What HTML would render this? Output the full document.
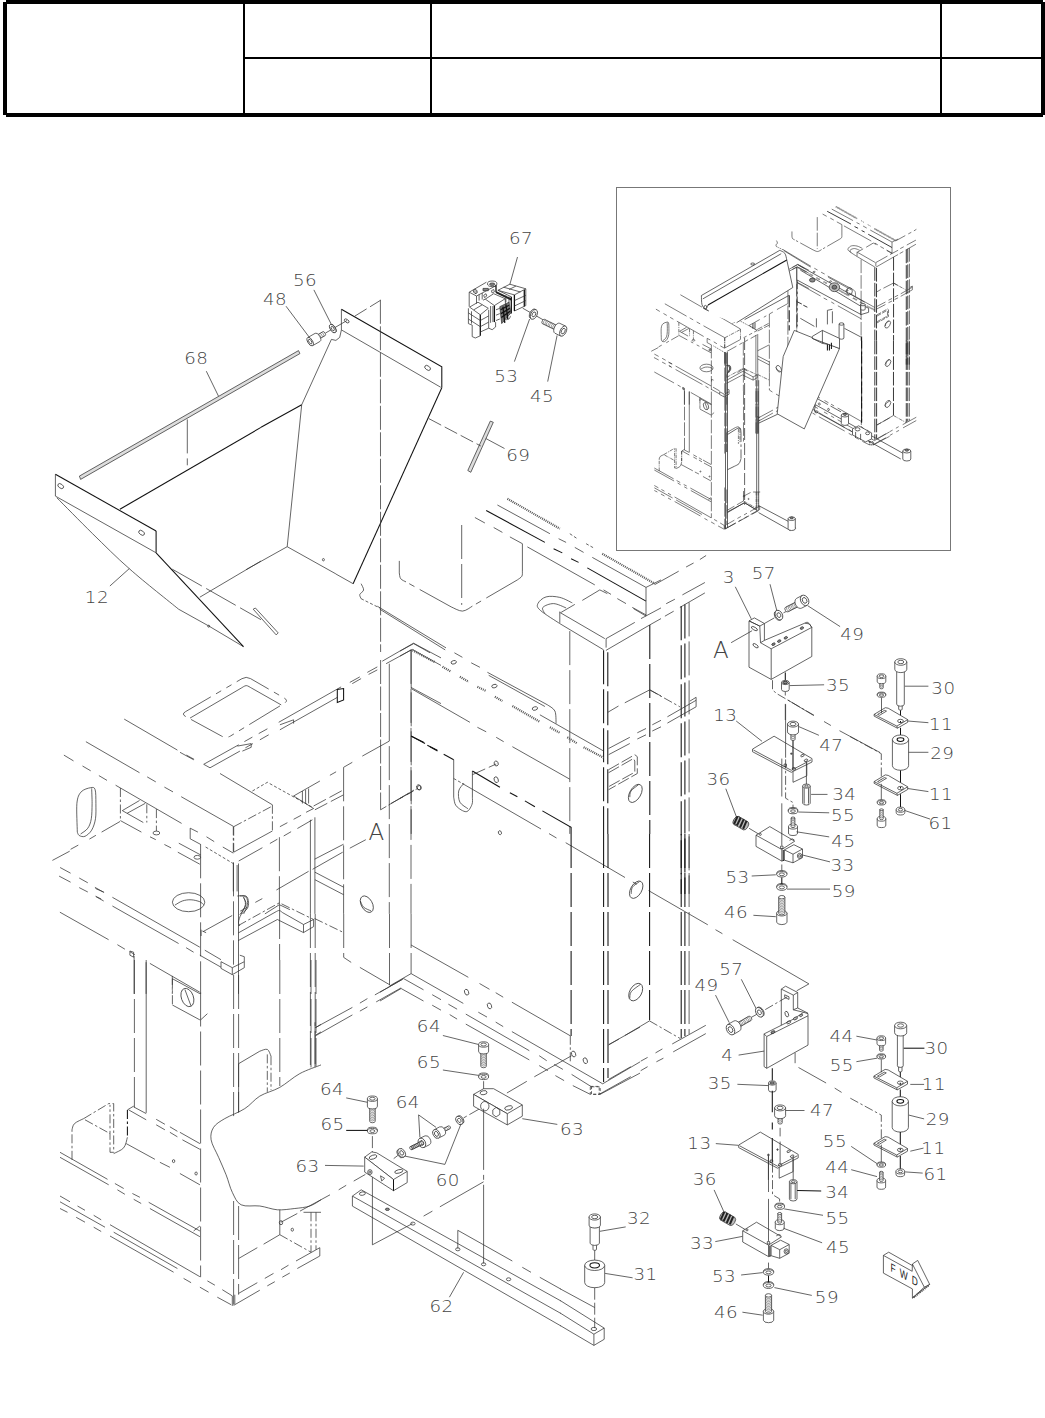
<!DOCTYPE html>
<html lang="en"><head><meta charset="utf-8"><title>Parts diagram</title><style>
html,body{margin:0;padding:0;background:#fff}
body{width:1045px;height:1418px;overflow:hidden;font-family:"DejaVu Sans Light","DejaVu Sans","Liberation Sans",sans-serif}
svg{display:block}
path,ellipse,line,rect,circle{fill:none;stroke:#333;stroke-width:.75}
.s{}
.k{stroke-width:1.05;stroke:#111}
.p{stroke-dasharray:60 10 9 10 9 10}
.c{stroke-dasharray:34 5}
.d{stroke-dasharray:7 3}
.d2{stroke-dasharray:14 4}
.p2{stroke-dasharray:36 6 6 6 6 6}
.tx{stroke-width:2.2;stroke:#555;stroke-dasharray:1 1}
.d3{stroke-dasharray:12 3}
.th{stroke-width:.5}
.cl{stroke-dasharray:24 2.5}
.d1{stroke-dasharray:3 2}
.c2{stroke-dasharray:9 2.5 2.5 2.5}
.w{fill:#fff}
.nost{stroke:none}
.g{fill:#ddd}
.g5{fill:#777}
.g6{fill:#888}
.g9{fill:#bbb}
.k2{stroke-width:1.3;stroke:#111}
.k3{stroke-width:2;stroke:#222}
.hd{fill:#000;stroke:none}
.h2{stroke-width:2;stroke:#000}
text{font-family:"DejaVu Sans Light","DejaVu Sans","Liberation Sans",sans-serif;font-weight:200;font-size:16px;fill:#444;stroke:none;text-anchor:middle;letter-spacing:.4px}
.ta{font-size:23px}
.ins path,.ins ellipse{stroke-width:1.6;stroke:#333}
.ins .k{stroke-width:2.4}
.ins .tx{stroke-width:4}
.fwd{font-family:"Liberation Sans",sans-serif;font-size:12px;letter-spacing:6px;text-anchor:start;fill:#222;font-weight:400}
</style></head><body>
<svg width="1045" height="1418" viewBox="0 0 1045 1418">
<path class="hd" d="M6 0H1043V4H6ZM6 113H1043V117H6ZM3 2H7V115H3ZM1041 2H1045V115H1041ZM243 4H245V113H243ZM430 4H432V113H430ZM940 4H942V113H940ZM245 57H1041V59H245Z"/>
<rect x="616.5" y="187.5" width="334" height="363" style="stroke:#777;stroke-width:1"/>
<text class="t" transform="translate(196.3 364.2) scale(1.14 1)">68</text>
<path class="s" d="M206.3 371.2 L218.5 396.2"/>
<path class="s g" d="M79.4 476.1 L298.5 350.6 L299.9 353.6 L80.6 479.4Z"/>
<path class="c" d="M187.3 419.4 L187.3 465.3"/>
<path class="k" d="M119.9 509.3 L261 427.4"/>
<path class="k" d="M55.4 474.3 L156.1 531"/>
<path class="k" d="M156.1 531 L156.1 552.8"/>
<path class="s" d="M55.4 474.3 L55.4 496.1 L156.1 552.8"/>
<ellipse class="s" cx="60.7" cy="486.1" rx="3.2" ry="2" transform="rotate(35 60.7 486.1)"/>
<ellipse class="s" cx="141.6" cy="532.8" rx="3.2" ry="2" transform="rotate(35 141.6 532.8)"/>
<path class="s" d="M56.9 497.8 C62.9 503.8 80.3 521.6 92.4 533.5 C104.6 545.4 115.5 556.6 129.9 569.2 C144.2 581.9 170.5 602.5 178.6 609.2"/>
<path class="s" d="M178.6 609.2 L208.6 625.9 L243.5 646.7"/>
<path class="k" d="M156.1 552.8 L243.5 646.7"/>
<path class="s" d="M199.8 597.2 L261 561"/>
<path class="c" d="M172.3 569.2 L261 619.7"/>
<text class="t" transform="translate(96.9 603.2) scale(1.14 1)">12</text>
<path class="s" d="M109.9 586 L129.4 568.5"/>
<text class="t" transform="translate(305 285.9) scale(1.14 1)">56</text>
<text class="t" transform="translate(275 304.7) scale(1.14 1)">48</text>
<path class="s" d="M313.9 289.9 L332.2 326.1"/>
<path class="s" d="M286 306.2 L309 336.9"/>
<path class="k" d="M341.4 309.2 L441.8 366.9 L441.8 387.8"/>
<path class="s" d="M341.4 309.2 L341.4 329.9 L440.8 387.3"/>
<ellipse class="s" cx="346.7" cy="320.9" rx="2.7" ry="1.5" transform="rotate(35 346.7 320.9)"/>
<ellipse class="s" cx="427.6" cy="367.9" rx="3.2" ry="2" transform="rotate(35 427.6 367.9)"/>
<path class="s" d="M341.4 329.9 L339.7 337.4 L335.9 340.4 L331.4 339.4 L301.7 404.8"/>
<path class="k" d="M301.7 404.8 L261 427.3"/>
<path class="s" d="M301.7 404.8 L287.2 546.7"/>
<path class="s" d="M287.2 546.7 L246 569.7"/>
<path class="s" d="M287.2 546.7 L335.9 573.9"/>
<path class="k" d="M441.8 387.8 L353.1 583.7"/>
<ellipse class="s" cx="323.4" cy="559.7" rx="1" ry="1.2"/>
<path class="d2" d="M354.7 316.2 L380.4 300.4"/>
<path class="s" d="M325.4 333.1 L347.2 320.4"/>
<path class="s g" d="M490.3 421.1 L493.3 422.3 L470.8 472.3 L467.8 470.5Z"/>
<path class="d2" d="M428.8 418.6 L480.8 446"/>
<path class="s" d="M485.8 438.5 L504.5 448.5"/>
<path class="s w" d="M316.4 335.4 L322.9 331.7 A1.1 2.2 -30 0 1 325.2 335.6 L318.7 339.3 Z"/>
<path d="M318.1 334.5 A1.1 2.2 -30 0 1 320.3 338.4M319.7 333.6 A1.1 2.2 -30 0 1 321.9 337.5M321.3 332.6 A1.1 2.2 -30 0 1 323.5 336.5" style="stroke-width:.5"/>
<path class="s w" d="M307.8 337.5 L315.2 333.3 A2.4 4.7 -30 0 1 319.9 341.5 L312.6 345.7 Z"/>
<ellipse class="s w" cx="310.2" cy="341.6" rx="2.4" ry="4.7" transform="rotate(-30 310.2 341.6)"/>
<ellipse class="s" cx="310.2" cy="341.6" rx="1.3" ry="2.6" transform="rotate(-30 310.2 341.6)"/>
<ellipse class="s w" cx="333" cy="328.5" rx="2.4" ry="4.7" transform="rotate(-30 333 328.5)"/>
<ellipse class="s w" cx="332.7" cy="328.6" rx="2.4" ry="4.7" transform="rotate(-30 332.7 328.6)"/>
<ellipse class="s" cx="332.7" cy="328.6" rx="1.2" ry="2.4" transform="rotate(-30 332.7 328.6)"/>
<text class="t" transform="translate(521 243.8) scale(1.14 1)">67</text>
<path class="s" d="M517.5 257 L509.8 284.6"/>
<path class="s" d="M529.6 319 L514.4 361.6"/>
<path class="s" d="M557.1 335.4 L547.7 381.6"/>
<text class="t" transform="translate(506.3 382.1) scale(1.14 1)">53</text>
<text class="t" transform="translate(542.1 401.7) scale(1.14 1)">45</text>
<path class="s" d="M522.7 308.2 L543.3 319.9"/>
<ellipse class="s w" cx="532.9" cy="313.9" rx="3.1" ry="5.2" transform="rotate(206 532.9 313.9)"/>
<ellipse class="s w" cx="533.9" cy="314.4" rx="3.1" ry="5.2" transform="rotate(206 533.9 314.4)"/>
<ellipse class="s" cx="533.9" cy="314.4" rx="1.6" ry="2.6" transform="rotate(206 533.9 314.4)"/>
<path class="s w" d="M556.2 330.4 L542.3 323.6 A1.3 2.4 206 0 1 544.4 319.3 L558.3 326.1 Z"/>
<path d="M554.7 329.6 A1.3 2.4 206 0 1 556.8 325.3M553.1 328.9 A1.3 2.4 206 0 1 555.2 324.6M551.6 328.1 A1.3 2.4 206 0 1 553.7 323.8M550 327.4 A1.3 2.4 206 0 1 552.1 323M548.5 326.6 A1.3 2.4 206 0 1 550.6 322.3M546.9 325.9 A1.3 2.4 206 0 1 549 321.5M545.4 325.1 A1.3 2.4 206 0 1 547.5 320.8M543.8 324.4 A1.3 2.4 206 0 1 545.9 320" style="stroke-width:.5"/>
<path class="s w" d="M560.7 336.1 L554.9 333.2 A3 5.5 206 0 1 559.7 323.3 L565.6 326.1 Z"/>
<ellipse class="s w" cx="563.2" cy="331.1" rx="3" ry="5.5" transform="rotate(206 563.2 331.1)"/>
<ellipse class="s" cx="563.2" cy="331.1" rx="1.7" ry="3" transform="rotate(206 563.2 331.1)"/>
<path class="s" d="M469.2 292.2 L486.4 282.2"/>
<ellipse class="s" cx="492.2" cy="283.8" rx="4.7" ry="2.8"/>
<ellipse class="s g6" cx="492.2" cy="284.2" rx="2.7" ry="1.2"/>
<path class="s" d="M469.2 292.2 L469.2 306.7"/>
<path class="s" d="M476.5 296 L476.5 303.7"/>
<path class="s" d="M469.2 292.2 L476.5 296 L496 285.7"/>
<path class="s" d="M479.1 294.5 L479.1 300.6"/>
<path class="s" d="M482.2 293 L482.2 299.5"/>
<path class="k2" d="M496 285.3 L496 292.2"/>
<path class="s g6" d="M483 288.4 L488.3 288.4 L488.3 290.7 L483 290.7Z"/>
<ellipse class="s g9" cx="475.3" cy="291.4" rx="1.7" ry="2.3" transform="rotate(-30 475.3 291.4)"/>
<path class="s" d="M483.7 295.3 L486 293.7 L486.8 296 L484.5 297.6Z"/>
<path class="s" d="M491.4 290.7 L493.7 289.5 L494.4 291.8 L492.2 293Z"/>
<path class="s" d="M485.3 299.1 L493.7 293.7 L505.2 298.7 L494.4 305.6Z"/>
<path class="k2" d="M494.4 305.6 L494.4 322.1"/>
<path class="s" d="M483 300.2 L485.3 299.1"/>
<path class="k3" d="M496 292.2 L511.3 299.5"/>
<path class="s" d="M505.2 298.7 L505.9 312.9"/>
<path class="s" d="M469.6 307.1 L478 302.2 L488.3 308.3 L480.3 314.8Z"/>
<path class="s" d="M473.8 309.8 L482.2 304.8"/>
<path class="s" d="M468.4 308.3 L468.4 323.6 L472.2 325.1 L472.2 336.6 L475.3 338 L480.3 335.8"/>
<path class="k2" d="M480.3 314.8 L480.3 335.8"/>
<path class="s" d="M468.4 312.9 L480.3 320.5 L488.7 315.9"/>
<path class="s" d="M468.4 319 L480.3 326.7 L488.7 322.1"/>
<path class="s" d="M471.5 311.3 L471.5 323.6"/>
<path class="s" d="M488.7 309.8 L488.7 328.2 L480.3 332"/>
<path class="s" d="M488.7 328.2 L492.2 329.7 L495.6 327 L495.6 322.1"/>
<path class="s" d="M490.6 306 L490.6 322.8"/>
<path class="s" d="M492.9 306 L492.9 322.1"/>
<path class="s" d="M497.9 290.3 L509.8 284.2 L525.8 288.8 L514.4 294.9Z"/>
<path class="s" d="M503.6 287.2 L520.5 292"/>
<path class="s" d="M509 289.5 L515.9 286.1"/>
<path class="k2" d="M514.4 294.9 L514.4 311"/>
<path class="s" d="M525.8 288.8 L525.8 305.6"/>
<path class="k2" d="M511.3 296.8 L511.3 313.6"/>
<path class="k2" d="M524.3 289.9 L524.3 306.4"/>
<path class="s" d="M514.4 300.6 L525.8 295.3"/>
<path class="s" d="M514.4 306 L525.8 300.6"/>
<path class="s" d="M514.4 311 L525.8 305.6"/>
<path class="s" d="M497.9 290.3 L511.3 296.8"/>
<path class="s" d="M505.9 295.3 L505.9 302.2"/>
<path class="s" d="M509 296.4 L509 302.9"/>
<path class="s g5" d="M499.8 306.7 L509 302.2 L510.9 312.9 L501.7 323.6Z"/>
<path class="k2" d="M500.6 309.8 L509 305.2"/>
<path class="k2" d="M501 313.6 L509.8 308.3"/>
<path class="k2" d="M501.3 317.5 L510.1 311.3"/>
<path class="k2" d="M502.9 306.7 L504.8 322.8"/>
<path class="k2" d="M505.9 304.4 L507.8 319"/>
<path class="s" d="M505.9 319.8 C506.4 319.6 508.2 319.6 509 319 C509.8 318.4 510.3 316.4 510.5 315.9"/>
<path class="s" d="M496 309.8 L499.8 308.3"/>
<path class="s" d="M496 315.2 L499.8 313.6"/>
<path class="s" d="M496 320.5 L499.8 319"/>
<path class="s" d="M124.2 719.1 L177.4 750.1"/>
<path class="s" d="M186.4 755.1 L194.1 759.3"/>
<path class="s" d="M85.9 741.7 L139.5 772.7"/>
<path class="s" d="M147.2 776.9 L155.8 781.9"/>
<path class="s" d="M164.4 787.1 L173 791.9"/>
<path class="s" d="M181.2 796.7 L233.3 826.3"/>
<path class="s" d="M63.9 755.1 L73.5 760.9"/>
<path class="s" d="M82.5 766 L90.7 770.8"/>
<path class="s" d="M98.9 775.6 L107 780.4"/>
<path class="s" d="M115.6 785.2 L181.6 823.4"/>
<path class="s" d="M190.2 828.2 L197.9 832.1"/>
<path class="s" d="M206.5 836.8 L214.2 841.6"/>
<path class="s" d="M222.8 847 L233.3 853.1"/>
<path class="c2" d="M233.3 826.3 L233.3 853.1"/>
<path class="s" d="M233.3 863.6 L233.3 891.4"/>
<path class="s" d="M237.1 865 L237.1 891.4"/>
<path class="d1" d="M205.6 847 L234.3 864.2"/>
<path class="s" d="M77.3 832.1 C77.3 827.3 76.3 810 76.9 803.3 C77.6 796.7 78.9 794.5 81.1 791.9 C83.4 789.3 88.4 788 90.7 787.7 C93 787.3 94.3 787 95.1 789.6 C96 792.2 95.8 798.5 95.9 803.3 C95.9 808.2 96.2 814.2 95.5 818.7 C94.8 823.1 93.4 827.2 91.7 830.1 C89.9 833.1 87 835.4 85 836.3 C82.9 837.2 80.5 836.2 79.2 835.5 C78 834.8 77.6 832.6 77.3 832.1"/>
<path class="s" d="M91.7 788.4 C91.7 790.9 92.1 798.3 92.1 803.3 C92 808.4 92 814.5 91.3 818.7 C90.6 822.8 89.6 825.7 87.8 828.2 C86.1 830.8 81.8 833 80.6 834"/>
<path class="c2" d="M120.4 788 L120.4 820.6"/>
<path class="s" d="M122.3 810.6 L139.5 800.5"/>
<path class="s" d="M127.1 813.3 L145.3 803.3"/>
<path class="s" d="M122.3 810.6 L143.3 822.5"/>
<path class="s" d="M120.4 820.6 L141.4 832.1"/>
<path class="s" d="M150 836.8 L155.8 839.7"/>
<path class="s" d="M164.4 844.5 L171.1 847.9"/>
<path class="s" d="M177.8 852.2 L199.8 864.2"/>
<path class="s" d="M178.8 843.2 L200.8 855"/>
<path class="s" d="M120 821.5 L101.6 832.1"/>
<path class="s" d="M95.9 835.3 L89.4 839.1"/>
<path class="s" d="M78.3 845.1 L70.6 849.3"/>
<path class="s" d="M69.7 851.2 L52.4 860.4"/>
<path class="c2" d="M146.8 804.3 L146.8 822.5"/>
<path class="c2" d="M156.4 809.1 L156.4 831.1"/>
<ellipse class="s" cx="156.4" cy="833" rx="3.4" ry="1.9"/>
<path class="s" d="M190.2 828.2 L190.2 838.8 L200.8 844.5"/>
<ellipse class="s" cx="197.3" cy="857.3" rx="3.3" ry="1.9"/>
<path class="s" d="M60.1 867.5 L70.6 873.2"/>
<path class="s" d="M79.2 878 L87.8 882.8"/>
<path class="s" d="M95.5 888.5 L104.1 892.3"/>
<path class="s" d="M59.1 876.1 L70.6 882.2"/>
<path class="s" d="M79.2 887.6 L87.8 892"/>
<path class="s" d="M95.5 896.2 L101.2 899"/>
<ellipse class="s" cx="188.6" cy="902.2" rx="16.2" ry="9.5"/>
<path class="s" d="M174.8 905.2 C176.1 904.5 179.6 901.9 182.3 901 C185 900.1 188.2 899.6 191.1 899.8 C194 899.9 197.7 900.9 199.8 901.7 C201.9 902.6 202.9 904.2 203.6 904.7"/>
<path class="s" d="M94.9 887.3 L103.7 892.3"/>
<path class="s" d="M112.4 897.3 L199.8 947.2"/>
<path class="s" d="M204.8 950.2 L221 959.7"/>
<path class="s" d="M96.2 896.8 L103.7 901"/>
<path class="s" d="M112.4 906 L178.6 943.5"/>
<path class="s" d="M186.1 947.7 L193.6 952.2"/>
<path class="s" d="M199.8 955.2 L221 967.2"/>
<path class="s" d="M59.9 912.2 L108.6 939.7"/>
<path class="s" d="M117.4 944.7 L124.9 949.2"/>
<path class="s" d="M129.9 951.7 L134.9 954.7"/>
<path class="s" d="M129.9 951 L133.6 952.2 L133.6 957.2 L129.9 955.2Z"/>
<path class="s" d="M134.1 955.9 L134.1 993.9"/>
<path class="s" d="M146.1 962.2 L146.1 993.9"/>
<path class="s" d="M149.9 963.4 L199.8 992.2"/>
<path class="c2" d="M172.3 975.9 L172.3 993.9"/>
<path class="c" d="M200.6 844.3 L200.6 993.9"/>
<path class="c" d="M233.5 862.3 L233.5 964.7"/>
<path class="s" d="M238.5 863.5 L238.5 993.9"/>
<path class="s" d="M237.3 896 C238.7 896 244.1 895 246 896 C247.9 897 248.3 900.2 248.5 902.2 C248.7 904.3 248.5 906.4 247.3 908.5 C246 910.6 242.5 912.4 241 914.7 C239.6 917 238.7 920.4 238.5 922.2 C238.3 924.1 239.6 925.4 239.8 926"/>
<path class="s" d="M243.5 897.3 C243.9 898.5 246.6 901.8 246 904.7 C245.4 907.7 240.8 913.1 239.8 914.7"/>
<path class="s" d="M221 961.7 L232.3 967.7 L244.3 961.7 L244.3 956.7 L239.8 955.2"/>
<path class="s" d="M232.3 967.7 L232.3 974.7 L221 968.4 L221 961.7"/>
<path class="s" d="M232.3 974.7 L244.3 967.7 L244.3 961.7"/>
<path class="s" d="M201.1 929.7 L201.1 936"/>
<path class="s" d="M202.3 931 L206.1 932.7"/>
<ellipse class="s" cx="208.7" cy="626.2" rx="1" ry="1"/>
<path class="s" d="M253.2 609.2 L255.4 608 L278.2 632.9 L276.2 634.9Z"/>
<path class="s" d="M335.9 574 L353.1 583.7"/>
<path class="s" d="M361.1 583.7 C361.5 584.8 363.8 588.2 363.6 590 C363.4 591.8 360.2 593 359.8 594.5 C359.4 595.9 360.9 598 361.1 598.7"/>
<path class="d1" d="M361.1 598.7 L379.8 608"/>
<path class="s" d="M377.3 606.2 L446 647.9"/>
<path class="s" d="M379.8 609.2 L445.2 649.9"/>
<path class="cl" d="M380.4 299.8 L380.6 652"/>
<path class="cl" d="M380.6 660 L380.6 809.8 L414 790"/>
<path class="d2" d="M391 803.5 L413.5 791"/>
<ellipse class="s" cx="419.3" cy="787.8" rx="2" ry="2.2"/>
<path class="s" d="M382.3 661.2 L413.5 643.2 L441 657.9"/>
<path class="s" d="M386.1 663.7 L412.3 649.4 L441 665.4"/>
<path class="s" d="M389.3 663.7 L389.3 741.1"/>
<path class="c" d="M389.3 746.1 L389.3 913.9"/>
<path class="c" d="M411 649.9 L411 913.9"/>
<path class="s" d="M411 687.4 L441 703.6"/>
<path class="k" d="M411 736.1 L423.5 742.3"/>
<path class="k" d="M427.3 745.3 L437.3 750.3"/>
<path class="p2" d="M185.6 716.5 Q181.2 714.1 185.6 711.6L241.9 678.7 Q246.2 676.1 250.5 678.6L284.3 698.1 Q288.6 700.6 284.4 703.2L230.5 736 Q226.2 738.6 221.8 736.2Z"/>
<path class="s" d="M190 718.1 L241.2 688.1"/>
<path class="s" d="M241.2 688.1 C242 687.7 244.5 685.7 246.2 685.6 C247.9 685.6 250.3 687.5 251.2 687.9"/>
<path class="s" d="M251.2 687.9 L281.2 704.9"/>
<path class="s" d="M203.7 764.3 L238.7 744.8"/>
<path class="s" d="M244.4 741.6 L252.4 737.1"/>
<path class="s" d="M258.7 733.6 L267.4 728.8"/>
<path class="s" d="M278.7 722.3 L341.1 686.9"/>
<path class="s" d="M349.8 682.4 L359.8 676.9"/>
<path class="s" d="M367.3 672.4 L377.3 666.9"/>
<path class="s" d="M210 767.8 L239.9 751.1"/>
<path class="s" d="M245.4 747.8 L252.9 743.6"/>
<path class="s" d="M259.9 739.8 L268.7 734.8"/>
<path class="s" d="M279.9 729.8 L337.3 697.4"/>
<path class="s" d="M352.3 683.6 L361.1 678.6"/>
<path class="s" d="M368.6 674.4 L377.3 669.9"/>
<path class="s" d="M203.7 764.3 L210 767.8"/>
<path class="k" d="M337.3 689.4 L337.3 702.4 L343.6 699.9 L343.6 688.6Z"/>
<path class="s" d="M279.9 724.8 L293.6 719.8 L293.6 723.6"/>
<path class="s" d="M237.4 746.1 L251.2 743.6 L251.2 747.3 L242.4 751.1"/>
<path class="s" d="M180 752.3 L193.7 759.8"/>
<path class="s" d="M220 773.5 L272.4 804.8"/>
<path class="c2" d="M272.4 804.8 L272.4 831"/>
<path class="c2" d="M233.7 826.7 L272.4 806"/>
<path class="c2" d="M233.7 826.7 L233.7 852.2"/>
<path class="s" d="M233.7 852.2 L272.4 831"/>
<path class="s" d="M279.9 826.7 L287.4 822.7"/>
<path class="s" d="M293.6 819.3 L301.1 815.3"/>
<path class="s" d="M306.1 812.3 L313.6 808.5"/>
<path class="d1" d="M252.4 791 L267.4 782.3 L312.4 807.3"/>
<path class="s" d="M293.6 796 L319.9 781"/>
<path class="s" d="M329.9 775.3 L336.1 771.8"/>
<path class="s" d="M343.6 767.3 L352.3 762.3"/>
<path class="s" d="M362.3 756.1 L389.3 741.1"/>
<path class="s" d="M302.4 791 L302.4 803.5"/>
<path class="s" d="M305.6 789.8 L305.6 803.5"/>
<path class="s" d="M308.6 788.5 L308.6 803.5"/>
<path class="s" d="M293.6 796 L313.6 808.5"/>
<path class="c" d="M343.6 767.3 L343.6 913.9"/>
<path class="d2" d="M313.6 806 L343.6 789.8"/>
<path class="d2" d="M314.9 809.8 L343.6 794.8"/>
<path class="s" d="M310.4 819.8 L310.4 913.9"/>
<path class="s" d="M314.9 817.3 L314.9 913.9"/>
<path class="s" d="M238.7 861 L262.4 847.7"/>
<path class="s" d="M269.9 843.5 L277.4 839.2"/>
<path class="s" d="M283.7 836 L291.1 831.7"/>
<path class="s" d="M297.4 828.5 L312.4 819.8"/>
<path class="c" d="M279.4 837.2 L279.4 904.7"/>
<text class="t ta" transform="translate(376.6 839.7) scale(1.0 1)">A</text>
<path class="s" d="M203.1 931.6 L232.2 915.5"/>
<path class="s" d="M240.2 911.1 L247.3 907.3"/>
<path class="s" d="M255.3 902.4 L262.3 898.6"/>
<path class="s" d="M276.4 890 L308.6 871.3"/>
<path class="s" d="M312.6 869.3 L342.7 852.2"/>
<path class="s" d="M349.8 848.2 L365.8 839.7"/>
<path class="s" d="M314.6 859.2 L343.6 844.2"/>
<path class="s" d="M314.9 872.2 L343.6 887.2"/>
<path class="s" d="M314.9 879.7 L343.6 894.7"/>
<ellipse class="s" cx="366.8" cy="904.2" rx="5.5" ry="9" transform="rotate(-30 366.8 904.2)"/>
<path class="s" d="M360.3 900.9 C360.9 902 361.8 905.5 363.6 907.2 C365.4 908.8 369.8 910.3 371.1 910.9"/>
<path class="s" d="M264.9 913.9 L279.4 904.7 L289.9 909.7"/>
<path class="s" d="M239.9 895.9 C241 896.1 244.9 895.7 246.2 897.2 C247.4 898.6 247.9 901.9 247.4 904.7 C247 907.5 244.3 912.4 243.7 913.9"/>
<path class="s" d="M243.7 897.2 C244 898.4 245.9 901.9 245.4 904.7 C245 907.5 241.9 912.4 241.2 913.9"/>
<path class="tx" d="M507.4 498.7 L559.8 528.7"/>
<path class="tx" d="M602.3 553.7 L654.8 583.7"/>
<path class="d1" d="M569.8 533.7 L577.3 538.7"/>
<path class="d1" d="M586.1 543.7 L593.6 547.9"/>
<path class="s" d="M497.4 505 L549.9 533.7"/>
<path class="s" d="M558.6 538.7 L566.1 542.4"/>
<path class="s" d="M574.8 547.4 L583.6 552.4"/>
<path class="s" d="M592.3 557.4 L646 587.4"/>
<path class="k" d="M486.2 510.5 L544.9 542.4"/>
<path class="k" d="M553.6 548.7 L562.3 552.9"/>
<path class="k" d="M571.1 558.7 L578.6 562.4"/>
<path class="k" d="M587.3 567.9 L646 601.1"/>
<path class="s" d="M474.9 517.5 L484.9 523"/>
<path class="s" d="M493.7 527.5 L502.4 532.4"/>
<path class="s" d="M509.9 536.9 L522.4 543.7"/>
<path class="s" d="M527.4 546.9 L594.8 584.9"/>
<path class="s" d="M603.6 589.9 L611 594.4"/>
<path class="s" d="M617.3 598.6 L626 603.6"/>
<path class="s" d="M632.3 607.4 L646 614.9"/>
<path class="c" d="M522.4 543.7 L522.4 571.2"/>
<path class="s" d="M522.4 571.2 C522.3 572 522.7 574.7 521.9 576.2 C521.1 577.6 518.1 579.3 517.4 579.9"/>
<path class="p2" d="M517.4 579.9 L472.4 606.1"/>
<path class="s" d="M472.4 606.1 C470.8 607 466 611 462.4 611.1 C458.9 611.2 453.1 607.6 451.2 606.9"/>
<path class="p2" d="M451.2 606.9 L406 581.9"/>
<path class="s" d="M406 581.9 C405.1 581.4 401.9 580.2 400.7 578.7 C399.6 577.2 399.5 573.9 399.3 572.9"/>
<path class="s" d="M399.3 572.9 L399.3 560.9"/>
<path class="c" d="M461.7 525 L461.7 604.9"/>
<path class="s" d="M561.1 612.4 L574.8 604.4"/>
<path class="s" d="M582.3 600.4 L599.8 589.9"/>
<path class="s" d="M599.8 589.9 L607.3 593.6"/>
<path class="s" d="M633.5 608.6 L646 616.1"/>
<path class="s" d="M559.8 611.6 L559.8 622.9"/>
<path class="s" d="M559.8 612.4 L604.8 638.6"/>
<path class="s" d="M559.8 623.6 L603.6 649.8"/>
<path class="s" d="M606.1 638.6 L634.8 622.4"/>
<path class="s" d="M641 618.6 L661 607.9"/>
<path class="s" d="M606.1 650.3 L649.8 624.9 L661 618.6"/>
<path class="s" d="M646 587.4 L646 616.1"/>
<path class="s" d="M646 587.4 L661 579.9"/>
<path class="c2" d="M606.1 638.6 L606.1 650.3"/>
<path class="s" d="M572.3 602.9 C570.3 602 564.2 598.4 559.8 597.4 C555.5 596.4 549.8 595.8 546.1 596.9 C542.4 597.9 538.8 601.4 537.9 603.6 C536.9 605.9 536.7 607 540.4 610.4 C544 613.7 556.6 621.4 559.8 623.6"/>
<path class="s" d="M566.1 607.9 C564 607.2 557.5 603.7 553.6 603.6 C549.7 603.5 544.3 605.7 542.9 607.4 C541.4 609 544.5 612.6 544.9 613.6"/>
<path class="c" d="M569.8 631.1 L569.8 833.9"/>
<path class="c k" d="M603.6 650.3 L603.6 833.9"/>
<path class="c k" d="M607.8 652.3 L607.8 833.9"/>
<path class="c k" d="M649.8 624.9 L649.8 833.9"/>
<path class="s" d="M413.7 643.6 L400 651.1"/>
<path class="s" d="M411.2 649.8 L400 656.1"/>
<path class="s" d="M454.4 652.8 L462.4 657.3"/>
<path class="s" d="M471.2 662.8 L479.9 667.3"/>
<path class="s" d="M487.4 672.3 L547.4 704.8"/>
<path class="s" d="M547.4 704.8 C548.6 705.8 553.4 707.9 554.9 711 C556.3 714.2 555.9 721.4 556.1 723.5"/>
<path class="s" d="M488.7 675.3 L544.9 706.5"/>
<path class="tx" d="M412.5 650.3 L435 662.3"/>
<path class="tx" d="M512.4 706 L539.9 721.8"/>
<path class="tx" d="M583.6 747.2 L603.6 757.7"/>
<path class="tx" d="M442.5 666.8 L451.2 671.8"/>
<path class="tx" d="M459.9 676.8 L468.7 681.8"/>
<path class="tx" d="M477.4 686.8 L486.2 691"/>
<path class="tx" d="M494.9 696.8 L502.4 701"/>
<path class="tx" d="M549.9 727.3 L559.8 732.8"/>
<path class="tx" d="M567.3 737.3 L577.3 743.5"/>
<path class="s" d="M413.7 643.6 L430 652.8"/>
<path class="s" d="M539.9 714.8 L603.6 751"/>
<ellipse class="s" cx="453.7" cy="662.3" rx="2.7" ry="1.7" transform="rotate(-15 453.7 662.3)"/>
<ellipse class="s" cx="494.4" cy="686.1" rx="2.7" ry="1.7" transform="rotate(-15 494.4 686.1)"/>
<ellipse class="s" cx="534.9" cy="708.5" rx="2.7" ry="1.7" transform="rotate(-15 534.9 708.5)"/>
<path class="s" d="M411.2 649.8 L411.2 688.6"/>
<path class="c" d="M411.2 692.3 L411.2 833.9"/>
<path class="s" d="M411.2 688.6 L469.9 722.3"/>
<path class="s" d="M477.4 727.3 L486.2 731.8"/>
<path class="s" d="M496.2 737.3 L503.7 741.7"/>
<path class="s" d="M512.4 746.7 L569.8 779.2"/>
<path class="k" d="M411.2 736 L425 743.5"/>
<path class="k" d="M430 746.7 L437.5 751"/>
<path class="k" d="M443.7 754.2 L453.7 759.7"/>
<path class="s" d="M453.7 759.7 L453.7 797.2"/>
<path class="s" d="M453.7 797.2 C454.1 798.7 454.1 803.5 456.2 805.9 C458.3 808.4 463.6 811.9 466.2 811.7 C468.8 811.5 470.9 807.1 471.9 804.7 C473 802.3 472.3 798.4 472.4 797.2"/>
<path class="s" d="M472.4 797.2 L472.4 771"/>
<path class="s" d="M463.7 783.5 C462.9 784.7 459.3 787.8 458.7 791 C458.1 794.1 458.4 799.2 459.9 802.2 C461.5 805.1 466.6 807.6 467.9 808.7"/>
<path class="k" d="M472.4 771 L499.9 787.2"/>
<path class="k" d="M509.9 792.7 L517.4 796.7"/>
<path class="k" d="M524.9 800.9 L534.9 806.7"/>
<path class="k" d="M542.4 810.9 L571.1 827.2 L571.1 833.9"/>
<path class="d1" d="M453.7 778.5 L463.7 784.2"/>
<ellipse class="s" cx="496.2" cy="763.5" rx="2" ry="2.5" transform="rotate(-20 496.2 763.5)"/>
<ellipse class="s" cx="496.2" cy="779.7" rx="2" ry="3" transform="rotate(-20 496.2 779.7)"/>
<ellipse class="s" cx="418.7" cy="787.2" rx="2" ry="2.5" transform="rotate(-20 418.7 787.2)"/>
<path class="d2" d="M472.4 774.7 L496.2 764"/>
<path class="d2" d="M400 798.4 L417.5 788.5"/>
<ellipse class="s" cx="499.9" cy="832.7" rx="1.5" ry="2" transform="rotate(-20 499.9 832.7)"/>
<path class="s" d="M608.6 748.5 L629.8 737.3"/>
<path class="s" d="M637.3 732.8 L646 728.5"/>
<path class="s" d="M652.3 724.8 L661 720.3"/>
<path class="s" d="M608.6 754.7 L629.8 743.5"/>
<path class="s" d="M637.3 739 L646 734.8"/>
<path class="s" d="M652.3 731 L661 726.8"/>
<path class="s" d="M607.8 712.3 L618.5 706"/>
<path class="s" d="M624.8 702.8 L649.8 689.8 L661 696"/>
<path class="d3" d="M608.6 769.7 L634.8 754.7 L637.3 756.7 L637.3 773.5 L608.6 789.7"/>
<path class="d3" d="M608.6 772.7 L633.5 758.5 L634.8 761 L634.8 772.2 L608.6 786.7"/>
<ellipse class="s" cx="635.3" cy="793.4" rx="5.5" ry="10" transform="rotate(30 635.3 793.4)"/>
<path class="s" d="M629.8 797.2 C630 796.2 629.6 793 631 791 C632.5 788.9 637.3 785.7 638.5 784.7"/>
<path class="s" d="M654.9 584.5 L678.7 571.2"/>
<path class="s" d="M686.1 567 L693.6 563"/>
<path class="s" d="M699.9 559.5 L706.1 555.5"/>
<path class="s" d="M666.2 603.7 L674.9 599.2"/>
<path class="s" d="M682.4 594.9 L704.9 582.5"/>
<path class="s" d="M664.9 616.2 L673.7 611.2"/>
<path class="s" d="M679.9 607.4 L704.9 592.9"/>
<path class="c k" d="M681.2 606.2 L681.2 893.9"/>
<path class="c k" d="M684.9 604.4 L684.9 893.9"/>
<path class="c" d="M689.1 602.4 L689.1 893.9"/>
<path class="c2" d="M649.7 689.9 L679.9 706.8"/>
<path class="s" d="M689.9 701.1 L696.1 697.3 L696.1 706.8"/>
<path class="s" d="M667.4 716.8 L696.1 700.3"/>
<path class="s" d="M667.4 723.1 L696.1 706.8"/>
<ellipse class="s" cx="636.2" cy="889.7" rx="5.5" ry="9.5" transform="rotate(30 636.2 889.7)"/>
<path class="s" d="M631.2 893.9 C631.4 892.8 631.1 889.2 632.4 887.2 C633.8 885.1 638.3 882.6 639.4 881.7"/>
<text class="t" transform="translate(728.7 583.2) scale(1.14 1)">3</text>
<text class="t" transform="translate(763.7 578.9) scale(1.14 1)">57</text>
<text class="t" transform="translate(852.2 640.4) scale(1.14 1)">49</text>
<text class="t" transform="translate(838.1 690.6) scale(1.14 1)">35</text>
<text class="t ta" transform="translate(721 658)">A</text>
<path class="s" d="M735.3 586.8 L751.3 618.9"/>
<path class="s" d="M770 584.2 L777.4 612.8"/>
<path class="s" d="M808 605.9 L840.1 626.6"/>
<path class="s" d="M731.1 642.7 L752.1 630.7"/>
<path class="s" d="M789.6 685.6 L824.1 684.8"/>
<path class="s" d="M749 620.9 L754.4 617.9 L764.4 623.5 L759.8 626.1Z"/>
<path class="s" d="M749 620.9 L759.8 626.1 L760.5 642.7 L771.2 648.8 L771.2 679.4 L749 667.2Z"/>
<path class="s" d="M764.4 623.5 L764.4 640.4 L760.5 642.7"/>
<path class="s" d="M764.4 640.4 L804.9 623.1 L809.5 624 L811.8 627.4 L771.2 648.8"/>
<path class="s" d="M811.8 627.4 L811.8 656.5 L771.2 679.4"/>
<path class="s" d="M804.9 623.1 C805.4 623 806.8 621.8 808 622.5 C809.1 623.2 811.2 626.6 811.8 627.4"/>
<ellipse class="s" cx="754.4" cy="628.6" rx="3.4" ry="1.4" transform="rotate(30 754.4 628.6)"/>
<ellipse class="s" cx="755.6" cy="645.7" rx="3.1" ry="1.4" transform="rotate(35 755.6 645.7)"/>
<ellipse class="s g6" cx="773.5" cy="644.2" rx="1.8" ry="1.1" transform="rotate(-25 773.5 644.2)"/>
<ellipse class="s g6" cx="779.2" cy="641.1" rx="1.8" ry="1.1" transform="rotate(-25 779.2 641.1)"/>
<ellipse class="s g6" cx="785.8" cy="637.8" rx="1.8" ry="1.1" transform="rotate(-25 785.8 637.8)"/>
<ellipse class="s g6" cx="801.9" cy="628.1" rx="1.8" ry="1.1" transform="rotate(-25 801.9 628.1)"/>
<path class="s" d="M764.4 623.5 L774.3 617.9"/>
<path class="s" d="M783.5 612.8 L786.6 611.3"/>
<ellipse class="s w" cx="778.2" cy="615.5" rx="3.5" ry="5.1" transform="rotate(153 778.2 615.5)"/>
<ellipse class="s w" cx="778.9" cy="615.1" rx="3.5" ry="5.1" transform="rotate(153 778.9 615.1)"/>
<ellipse class="s" cx="778.9" cy="615.1" rx="1.8" ry="2.5" transform="rotate(153 778.9 615.1)"/>
<path class="s w" d="M800.3 605.5 L788.1 611.8 A1.8 2.6 153 0 1 785.7 607.1 L798 600.9 Z"/>
<path d="M798.8 606.3 A1.8 2.6 153 0 1 796.4 601.7M797.3 607.1 A1.8 2.6 153 0 1 794.9 602.4M795.7 607.9 A1.8 2.6 153 0 1 793.4 603.2M794.2 608.6 A1.8 2.6 153 0 1 791.8 604M792.7 609.4 A1.8 2.6 153 0 1 790.3 604.8M791.1 610.2 A1.8 2.6 153 0 1 788.8 605.6M789.6 611 A1.8 2.6 153 0 1 787.2 606.4" style="stroke-width:.5"/>
<path class="s w" d="M807.1 605.3 L801.7 608.1 A3.9 5.5 153 0 1 796.7 598.3 L802.1 595.5 Z"/>
<ellipse class="s w" cx="804.6" cy="600.4" rx="3.9" ry="5.5" transform="rotate(153 804.6 600.4)"/>
<ellipse class="s" cx="804.6" cy="600.4" rx="2.1" ry="3" transform="rotate(153 804.6 600.4)"/>
<path class="k" d="M785.3 672.5 L785.3 680.2"/>
<path class="s w" d="M789.2 682.5 L789.2 689.4 A2.1 3.8 90 0 1 781.5 689.4 L781.5 682.5 Z"/>
<ellipse class="s w" cx="785.3" cy="682.5" rx="2.1" ry="3.8" transform="rotate(90 785.3 682.5)"/>
<ellipse class="s" cx="785.3" cy="682.5" rx="1.3" ry="2.3" transform="rotate(90 785.3 682.5)"/>
<ellipse class="s g6" cx="785.3" cy="682.5" rx="2.1" ry="1.2"/>
<path class="c2" d="M772.5 680.2 L772.5 690.1 L777.4 694 L815.6 716.2"/>
<path class="s" d="M785.3 691.7 L785.3 695.5"/>
<path class="s" d="M785.3 703.9 L785.3 720"/>
<text class="t" transform="translate(725.2 721.2) scale(1.14 1)">13</text>
<path class="s" d="M736.2 721 L762 741.3"/>
<path class="s" d="M752.5 749.1 L774.1 736.2 L812 758.6 L812 762 L791.3 772.3 L752.5 751.7Z"/>
<path class="s" d="M753.4 750 L791.3 770.3 L811.1 759.9"/>
<path class="s" d="M793 771.5 L793 782.3 L806.8 775.8 L806.8 762.9"/>
<path class="s" d="M784.1 764.1 L786.5 764.1 L786.5 766.5 L784.1 766.5Z"/>
<ellipse class="s" cx="793.9" cy="768.9" rx="1.7" ry="1.4"/>
<ellipse class="s" cx="802.5" cy="755.5" rx="1.9" ry="1" transform="rotate(-25 802.5 755.5)"/>
<ellipse class="s" cx="805.9" cy="760.3" rx="1.9" ry="1" transform="rotate(-25 805.9 760.3)"/>
<path class="s" d="M790.1 753.7 L792.5 753.7"/>
<path class="s" d="M791.3 752.5 L791.3 754.9"/>
<path class="s" d="M785.6 704.3 L785.6 757.7"/>
<path class="c2" d="M785.6 759.4 L785.6 798.2 L793 802.5 L793 808.5"/>
<path class="k" d="M793 738.8 L793 768.9"/>
<path class="s w" d="M795.1 731.9 L795.1 739.3 A1.1 2.1 90 0 1 790.9 739.3 L790.9 731.9 Z"/>
<ellipse class="s w" cx="793" cy="731.9" rx="1.1" ry="2.1" transform="rotate(90 793 731.9)"/>
<path class="th" d="M790.9 733.7 C791.3 733.9 792.3 734.9 793 734.9 C793.7 734.9 794.7 733.9 795.1 733.7"/>
<path class="th" d="M790.9 735.6 C791.3 735.8 792.3 736.7 793 736.7 C793.7 736.7 794.7 735.8 795.1 735.6"/>
<path class="th" d="M790.9 737.4 C791.3 737.6 792.3 738.6 793 738.6 C793.7 738.6 794.7 737.6 795.1 737.4"/>
<path class="s w" d="M798.5 724.1 L798.5 731.9 A3 5.5 90 0 1 787.5 731.9 L787.5 724.1 Z"/>
<ellipse class="s w" cx="793" cy="724.1" rx="3" ry="5.5" transform="rotate(90 793 724.1)"/>
<ellipse class="s" cx="793" cy="724.1" rx="1.7" ry="3" transform="rotate(90 793 724.1)"/>
<text class="t" transform="translate(831.3 750.8) scale(1.14 1)">47</text>
<path class="s" d="M799 726.7 L818.9 735.3"/>
<path class="s" d="M806.4 761.1 L806.4 785.3"/>
<path class="s w" d="M810.2 786.1 L810.2 803.3 A2.1 3.8 90 0 1 802.7 803.3 L802.7 786.1 Z"/>
<ellipse class="s w" cx="806.4" cy="786.1" rx="2.1" ry="3.8" transform="rotate(90 806.4 786.1)"/>
<ellipse class="s" cx="806.4" cy="786.1" rx="1" ry="1.9" transform="rotate(90 806.4 786.1)"/>
<path class="s" d="M804.2 788.2 L804.2 803.7"/>
<path class="s" d="M808.5 788.2 L808.5 803.7"/>
<ellipse class="s w" cx="793" cy="810.2" rx="2.7" ry="4.8" transform="rotate(-90 793 810.2)"/>
<ellipse class="s w" cx="793" cy="811.1" rx="2.7" ry="4.8" transform="rotate(-90 793 811.1)"/>
<ellipse class="s" cx="793" cy="811.1" rx="1.3" ry="2.4" transform="rotate(-90 793 811.1)"/>
<path class="s w" d="M797.5 826.6 L797.5 833 A2.5 4.5 90 0 1 788.5 833 L788.5 826.6 Z"/>
<ellipse class="s w" cx="793" cy="826.6" rx="2.5" ry="4.5" transform="rotate(90 793 826.6)"/>
<path class="s w" d="M794.9 818 L794.9 826.6 A1 1.9 90 0 1 791.1 826.6 L791.1 818 Z"/>
<ellipse class="s w" cx="793" cy="818" rx="1" ry="1.9" transform="rotate(90 793 818)"/>
<path class="th" d="M791.1 819.7 C791.4 819.9 792.4 820.8 793 820.8 C793.6 820.8 794.6 819.9 794.9 819.7"/>
<path class="th" d="M791.1 821.4 C791.4 821.6 792.4 822.5 793 822.5 C793.6 822.5 794.6 821.6 794.9 821.4"/>
<path class="th" d="M791.1 823.2 C791.4 823.3 792.4 824.2 793 824.2 C793.6 824.2 794.6 823.3 794.9 823.2"/>
<path class="th" d="M791.1 824.9 C791.4 825.1 792.4 825.9 793 825.9 C793.6 825.9 794.6 825.1 794.9 824.9"/>
<path class="s" d="M756 835.2 L769.8 826.6 L794.7 841.2 L781.8 849.5Z"/>
<path class="s" d="M756 835.2 L756 846.4 L781.8 861.1 L781.8 849.5"/>
<path class="s" d="M784.4 849.9 L793.9 844.7 L802.5 849 L793 854.2Z"/>
<path class="s" d="M784.4 849.9 L784.4 860.2 L793 862.8 L793 854.2"/>
<path class="s" d="M793 862.8 L802.5 857.6 L802.5 849"/>
<path class="s" d="M781.8 861.1 L784.4 860.2"/>
<ellipse class="s" cx="799.6" cy="855.9" rx="2.2" ry="2.6"/>
<ellipse class="s" cx="799.6" cy="855.9" rx="1" ry="1.2"/>
<ellipse class="s" cx="760.3" cy="834.4" rx="1" ry="1"/>
<path class="s" d="M780.6 846.1 L783 846.1 L783 848.5 L780.6 848.5Z"/>
<path class="k" d="M783.2 849.9 L783.2 861.1"/>
<path class="s" d="M789.6 840.4 L792.2 838.8 L794.4 840"/>
<path class="s g9" d="M738.8 816.5 L748.1 821.9 A2.8 4.7 30 0 1 743.4 829.9 L734.2 824.6 Z"/>
<ellipse class="s g9" cx="736.5" cy="820.6" rx="2.8" ry="4.7" transform="rotate(30 736.5 820.6)"/>
<path class="k3" d="M737.6 816.3 L734.1 824"/>
<path class="k3" d="M740.7 817.6 L736.9 825.7"/>
<path class="k3" d="M743.8 819.2 L740 827.5"/>
<path class="k3" d="M746.5 820.9 L743.1 828.8"/>
<path class="s" d="M749.1 828.3 L758.6 834"/>
<path class="s" d="M781.8 758.6 L781.8 796.5"/>
<path class="s" d="M781.8 803.3 L781.8 845.6"/>
<path class="c2" d="M781.8 864.5 L781.8 874"/>
<ellipse class="s w" cx="781.8" cy="873.3" rx="2.8" ry="5.2" transform="rotate(-90 781.8 873.3)"/>
<ellipse class="s w" cx="781.8" cy="874.3" rx="2.8" ry="5.2" transform="rotate(-90 781.8 874.3)"/>
<ellipse class="s" cx="781.8" cy="874.3" rx="1.4" ry="2.6" transform="rotate(-90 781.8 874.3)"/>
<ellipse class="s w" cx="781.8" cy="886.4" rx="3" ry="5.2" transform="rotate(-90 781.8 886.4)"/>
<ellipse class="s w" cx="781.8" cy="887.4" rx="3" ry="5.2" transform="rotate(-90 781.8 887.4)"/>
<ellipse class="s" cx="781.8" cy="887.4" rx="1.5" ry="2.6" transform="rotate(-90 781.8 887.4)"/>
<path class="k" d="M781.8 877.4 L781.8 884.3"/>
<path class="s w" d="M787 913.2 L787 922.2 A2.8 5.2 90 0 1 776.7 922.2 L776.7 913.2 Z"/>
<ellipse class="s w" cx="781.8" cy="913.2" rx="2.8" ry="5.2" transform="rotate(90 781.8 913.2)"/>
<path class="s w" d="M784.9 897.2 L784.9 913.2 A1.7 3.1 90 0 1 778.7 913.2 L778.7 897.2 Z"/>
<ellipse class="s w" cx="781.8" cy="897.2" rx="1.7" ry="3.1" transform="rotate(90 781.8 897.2)"/>
<path class="th" d="M778.7 898.8 C779.2 899.1 780.8 900.5 781.8 900.5 C782.9 900.5 784.4 899.1 784.9 898.8"/>
<path class="th" d="M778.7 900.4 C779.2 900.7 780.8 902.1 781.8 902.1 C782.9 902.1 784.4 900.7 784.9 900.4"/>
<path class="th" d="M778.7 902 C779.2 902.3 780.8 903.7 781.8 903.7 C782.9 903.7 784.4 902.3 784.9 902"/>
<path class="th" d="M778.7 903.6 C779.2 903.9 780.8 905.3 781.8 905.3 C782.9 905.3 784.4 903.9 784.9 903.6"/>
<path class="th" d="M778.7 905.2 C779.2 905.5 780.8 906.9 781.8 906.9 C782.9 906.9 784.4 905.5 784.9 905.2"/>
<path class="th" d="M778.7 906.8 C779.2 907.1 780.8 908.5 781.8 908.5 C782.9 908.5 784.4 907.1 784.9 906.8"/>
<path class="th" d="M778.7 908.4 C779.2 908.7 780.8 910.1 781.8 910.1 C782.9 910.1 784.4 908.7 784.9 908.4"/>
<path class="th" d="M778.7 910 C779.2 910.3 780.8 911.7 781.8 911.7 C782.9 911.7 784.4 910.3 784.9 910"/>
<path class="th" d="M778.7 911.6 C779.2 911.9 780.8 913.3 781.8 913.3 C782.9 913.3 784.4 911.9 784.9 911.6"/>
<text class="t" transform="translate(844.3 800.1) scale(1.14 1)">34</text>
<text class="t" transform="translate(843 821.1) scale(1.14 1)">55</text>
<text class="t" transform="translate(843.4 846.9) scale(1.14 1)">45</text>
<text class="t" transform="translate(718.6 784.6) scale(1.14 1)">36</text>
<text class="t" transform="translate(842.5 871) scale(1.14 1)">33</text>
<text class="t" transform="translate(737.5 882.7) scale(1.14 1)">53</text>
<text class="t" transform="translate(843.8 896.9) scale(1.14 1)">59</text>
<text class="t" transform="translate(736 918.4) scale(1.14 1)">46</text>
<path class="s" d="M811.1 794.4 L827.5 794.4"/>
<path class="s" d="M798.2 812 L829.2 812.8"/>
<path class="s" d="M796.5 831.8 L829.2 836.9"/>
<path class="s" d="M725.8 788.7 L736.5 817.1"/>
<path class="s" d="M802.5 855 L830 861.9"/>
<path class="s" d="M751.7 876 L775.8 874.8"/>
<path class="s" d="M787 889.1 L830 889.1"/>
<path class="s" d="M753.4 915.3 L775.8 916.7"/>
<path class="s" d="M787.8 700 L813.7 715.5"/>
<path class="s" d="M824 721.5 L830.9 725.5"/>
<path class="s" d="M839.5 730.7 L880 752.5"/>
<path class="k" d="M900.5 708.9 L900.5 721"/>
<path class="s w" d="M902.2 704.1 L902.2 709.2 A0.9 1.7 90 0 1 898.7 709.2 L898.7 704.1 Z"/>
<ellipse class="s w" cx="900.5" cy="704.1" rx="0.9" ry="1.7" transform="rotate(90 900.5 704.1)"/>
<path class="s w" d="M904.3 669.3 L904.3 704.1 A2.1 3.8 90 0 1 896.7 704.1 L896.7 669.3 Z"/>
<ellipse class="s w" cx="900.5" cy="669.3" rx="2.1" ry="3.8" transform="rotate(90 900.5 669.3)"/>
<path class="s w" d="M906.8 662 L906.8 669.3 A3.3 6 90 0 1 894.8 669.3 L894.8 662 Z"/>
<ellipse class="s w" cx="900.8" cy="662" rx="3.3" ry="6" transform="rotate(90 900.8 662)"/>
<ellipse class="s" cx="900.8" cy="662" rx="1.7" ry="3" transform="rotate(90 900.8 662)"/>
<path class="s w" d="M874.1 714.4 L885.3 707.7 L888.2 708.2 L907.7 719.6 L907.7 722.3 L897.4 728.2 L874.1 716.1Z"/>
<path class="s" d="M874.1 714.4 L896.9 726.1 L907.7 719.6"/>
<path class="s" d="M896.9 726.1 L897.4 728.2"/>
<path class="s" d="M877.6 714.4 L884.4 710.4 L886.5 711.1 L879.6 715.3Z"/>
<ellipse class="s" cx="900.5" cy="721" rx="2.9" ry="1.7"/>
<path class="k" d="M900.5 721 L900.5 722.7"/>
<path class="k" d="M900.5 727.8 L900.5 739"/>
<path class="s w" d="M908.6 739.6 L908.6 765.7 A4.6 8.1 90 0 1 892.4 765.7 L892.4 739.6 Z"/>
<ellipse class="s w" cx="900.5" cy="739.6" rx="4.6" ry="8.1" transform="rotate(90 900.5 739.6)"/>
<ellipse class="k" cx="900.5" cy="739.6" rx="3.4" ry="1.9"/>
<path class="k" d="M900.5 770.4 L900.5 788.1"/>
<path class="s w" d="M874.1 781.6 L885.3 774.9 L888.2 775.4 L907.7 786.8 L907.7 789.5 L897.4 795.4 L874.1 783.3Z"/>
<path class="s" d="M874.1 781.6 L896.9 793.3 L907.7 786.8"/>
<path class="s" d="M896.9 793.3 L897.4 795.4"/>
<path class="s" d="M877.6 781.6 L884.4 777.6 L886.5 778.3 L879.6 782.4Z"/>
<ellipse class="s" cx="900.5" cy="788.1" rx="2.9" ry="1.7"/>
<path class="k" d="M900.5 786.8 L900.5 788.5"/>
<path class="k" d="M900.5 794.2 L900.5 807.9"/>
<path class="s w" d="M904.8 809.7 L904.8 812.4 A2.6 4.3 90 0 1 896.2 812.4 L896.2 809.7 Z"/>
<ellipse class="s w" cx="900.5" cy="809.7" rx="2.6" ry="4.3" transform="rotate(90 900.5 809.7)"/>
<ellipse class="s" cx="900.5" cy="809.7" rx="1.3" ry="2.2" transform="rotate(90 900.5 809.7)"/>
<path class="s w" d="M883.2 681.3 L883.2 687.9 A0.9 1.7 90 0 1 879.8 687.9 L879.8 681.3 Z"/>
<ellipse class="s w" cx="881.5" cy="681.3" rx="0.9" ry="1.7" transform="rotate(90 881.5 681.3)"/>
<path class="th" d="M879.8 683 C880.1 683.1 880.9 683.9 881.5 683.9 C882.1 683.9 883 683.1 883.2 683"/>
<path class="th" d="M879.8 684.6 C880.1 684.8 880.9 685.6 881.5 685.6 C882.1 685.6 883 684.8 883.2 684.6"/>
<path class="th" d="M879.8 686.2 C880.1 686.4 880.9 687.2 881.5 687.2 C882.1 687.2 883 686.4 883.2 686.2"/>
<path class="s w" d="M885.8 676.2 L885.8 681.3 A2.4 4.3 90 0 1 877.2 681.3 L877.2 676.2 Z"/>
<ellipse class="s w" cx="881.5" cy="676.2" rx="2.4" ry="4.3" transform="rotate(90 881.5 676.2)"/>
<ellipse class="s" cx="881.5" cy="676.2" rx="1.3" ry="2.4" transform="rotate(90 881.5 676.2)"/>
<ellipse class="s w" cx="881.5" cy="694.3" rx="2.2" ry="4.3" transform="rotate(-90 881.5 694.3)"/>
<ellipse class="s w" cx="881.5" cy="695.1" rx="2.2" ry="4.3" transform="rotate(-90 881.5 695.1)"/>
<ellipse class="s" cx="881.5" cy="695.1" rx="1.1" ry="2.2" transform="rotate(-90 881.5 695.1)"/>
<path class="s" d="M881.5 697.7 L881.5 713.2"/>
<text class="t" transform="translate(943.4 693.9) scale(1.14 1)">30</text>
<path class="s" d="M904.8 686.2 L928.4 686.2"/>
<text class="t" transform="translate(941.1 730.1) scale(1.14 1)">11</text>
<path class="s" d="M907.7 721 L928.4 722.7"/>
<text class="t" transform="translate(942.2 759) scale(1.14 1)">29</text>
<path class="s" d="M908.6 752.3 L928.4 752.3"/>
<text class="t" transform="translate(941.1 799.8) scale(1.14 1)">11</text>
<path class="s" d="M907.7 788.5 L928.4 791.6"/>
<path class="c2" d="M850 736.5 L881.3 753.7 L881.3 779.5"/>
<path class="s" d="M881.3 783.8 L881.3 801.1"/>
<ellipse class="s w" cx="881.5" cy="801.9" rx="2.2" ry="4.3" transform="rotate(-90 881.5 801.9)"/>
<ellipse class="s w" cx="881.5" cy="802.8" rx="2.2" ry="4.3" transform="rotate(-90 881.5 802.8)"/>
<ellipse class="s" cx="881.5" cy="802.8" rx="1.1" ry="2.2" transform="rotate(-90 881.5 802.8)"/>
<path class="s w" d="M885.8 818.8 L885.8 825.2 A2.4 4.3 90 0 1 877.2 825.2 L877.2 818.8 Z"/>
<ellipse class="s w" cx="881.5" cy="818.8" rx="2.4" ry="4.3" transform="rotate(90 881.5 818.8)"/>
<path class="s w" d="M883.2 809.7 L883.2 818.8 A0.9 1.7 90 0 1 879.8 818.8 L879.8 809.7 Z"/>
<ellipse class="s w" cx="881.5" cy="809.7" rx="0.9" ry="1.7" transform="rotate(90 881.5 809.7)"/>
<path class="th" d="M879.8 811.5 C880.1 811.6 880.9 812.4 881.5 812.4 C882.1 812.4 883 811.6 883.2 811.5"/>
<path class="th" d="M879.8 813.3 C880.1 813.5 880.9 814.3 881.5 814.3 C882.1 814.3 883 813.5 883.2 813.3"/>
<path class="th" d="M879.8 815.1 C880.1 815.3 880.9 816.1 881.5 816.1 C882.1 816.1 883 815.3 883.2 815.1"/>
<path class="th" d="M879.8 817 C880.1 817.1 880.9 817.9 881.5 817.9 C882.1 817.9 883 817.1 883.2 817"/>
<text class="t" transform="translate(940.6 829.1) scale(1.14 1)">61</text>
<path class="s" d="M904.8 810.5 L930.1 819.1"/>
<path class="d2" d="M808.9 983.9 L795.1 991.7"/>
<path class="c2" d="M787.3 996.8 L764.9 1009.8"/>
<text class="t" transform="translate(731.3 974.9) scale(1.14 1)">57</text>
<path class="s" d="M741.3 979.3 L756.3 1008.9"/>
<text class="t" transform="translate(706.6 991.3) scale(1.14 1)">49</text>
<path class="s" d="M715.5 995.1 L729.3 1022.7"/>
<path class="s" d="M750.3 1017.9 L757.2 1014.1"/>
<ellipse class="s w" cx="760.2" cy="1011.9" rx="3.4" ry="5.2" transform="rotate(-30 760.2 1011.9)"/>
<ellipse class="s w" cx="759.4" cy="1012.3" rx="3.4" ry="5.2" transform="rotate(-30 759.4 1012.3)"/>
<ellipse class="s" cx="759.4" cy="1012.3" rx="1.7" ry="2.6" transform="rotate(-30 759.4 1012.3)"/>
<path class="s w" d="M735.5 1023.9 L748.7 1016.3 A1.6 2.4 -30 0 1 751.1 1020.5 L737.9 1028 Z"/>
<path d="M737 1023 A1.6 2.4 -30 0 1 739.4 1027.2M738.5 1022.2 A1.6 2.4 -30 0 1 740.9 1026.4M739.9 1021.3 A1.6 2.4 -30 0 1 742.3 1025.5M741.4 1020.5 A1.6 2.4 -30 0 1 743.8 1024.7M742.8 1019.7 A1.6 2.4 -30 0 1 745.2 1023.8M744.3 1018.8 A1.6 2.4 -30 0 1 746.7 1023M745.7 1018 A1.6 2.4 -30 0 1 748.2 1022.1M747.2 1017.1 A1.6 2.4 -30 0 1 749.6 1021.3" style="stroke-width:.5"/>
<path class="s w" d="M727.6 1024.6 L733.9 1021 A3.7 5.7 -30 0 1 739.6 1030.9 L733.3 1034.5 Z"/>
<ellipse class="s w" cx="730.5" cy="1029.6" rx="3.7" ry="5.7" transform="rotate(-30 730.5 1029.6)"/>
<ellipse class="s" cx="730.5" cy="1029.6" rx="2" ry="3.1" transform="rotate(-30 730.5 1029.6)"/>
<path class="s" d="M781.3 989.1 L785.6 986.2 L797.7 992.5 L793.3 995.1Z"/>
<path class="s" d="M781.3 989.1 L781.3 1025.3"/>
<path class="s" d="M793.3 995.1 L793.3 1009.8 L797.7 1008 L797.7 992.5"/>
<path class="s" d="M797.7 1008 L808 1013.2"/>
<path class="s" d="M764.1 1033.9 L781.3 1025.3 L793.3 1019.2 L803.7 1012.3 L808 1013.7 L808 1015.8 L766.7 1036.5Z"/>
<path class="s" d="M793.3 1009.8 L803.7 1012.3"/>
<path class="s" d="M766.7 1036.5 L766.7 1068.3 L808 1045.1 L808 1015.8"/>
<path class="s" d="M764.1 1033.9 L764.1 1066.6 L766.7 1068.3"/>
<path class="s" d="M784.7 994.8 L789 996.8 L789 999.4 L784.7 997.4Z"/>
<ellipse class="s" cx="786.8" cy="1014.1" rx="1.6" ry="2.9" transform="rotate(-20 786.8 1014.1)"/>
<ellipse class="s g6" cx="773" cy="1032.2" rx="2.2" ry="1.2" transform="rotate(-25 773 1032.2)"/>
<ellipse class="s" cx="788.7" cy="1022.3" rx="2.2" ry="1.2" transform="rotate(-25 788.7 1022.3)"/>
<ellipse class="s g9" cx="795.4" cy="1018.4" rx="2.2" ry="1.2" transform="rotate(-25 795.4 1018.4)"/>
<ellipse class="s g9" cx="801.1" cy="1015.4" rx="1.7" ry="1" transform="rotate(-25 801.1 1015.4)"/>
<text class="t" transform="translate(727.2 1061.1) scale(1.14 1)">4</text>
<path class="s" d="M738.6 1055.1 L764.1 1051.1"/>
<path class="k" d="M772.3 1068.3 L772.3 1080.4"/>
<path class="s w" d="M776.1 1083 L776.1 1089.9 A2.2 3.8 90 0 1 768.5 1089.9 L768.5 1083 Z"/>
<ellipse class="s w" cx="772.3" cy="1083" rx="2.2" ry="3.8" transform="rotate(90 772.3 1083)"/>
<ellipse class="s g6" cx="772.3" cy="1083" rx="2.2" ry="1.2"/>
<text class="t" transform="translate(719.7 1089) scale(1.14 1)">35</text>
<path class="s" d="M737.4 1084.3 L768.4 1085.6"/>
<path class="k" d="M772.3 1090.7 L772.3 1112.2"/>
<path class="k" d="M772.3 1122.6 L772.3 1129.5"/>
<path class="k" d="M772.3 1138.1 L772.3 1162.2"/>
<path class="s w" d="M782.2 1115.7 L782.2 1122.9 A1.1 2.1 90 0 1 778 1122.9 L778 1115.7 Z"/>
<ellipse class="s w" cx="780.1" cy="1115.7" rx="1.1" ry="2.1" transform="rotate(90 780.1 1115.7)"/>
<path class="th" d="M778 1117.5 C778.4 1117.7 779.4 1118.6 780.1 1118.6 C780.8 1118.6 781.8 1117.7 782.2 1117.5"/>
<path class="th" d="M778 1119.3 C778.4 1119.5 779.4 1120.4 780.1 1120.4 C780.8 1120.4 781.8 1119.5 782.2 1119.3"/>
<path class="th" d="M778 1121.1 C778.4 1121.3 779.4 1122.3 780.1 1122.3 C780.8 1122.3 781.8 1121.3 782.2 1121.1"/>
<path class="s w" d="M785.6 1107.9 L785.6 1115.7 A3 5.5 90 0 1 774.6 1115.7 L774.6 1107.9 Z"/>
<ellipse class="s w" cx="780.1" cy="1107.9" rx="3" ry="5.5" transform="rotate(90 780.1 1107.9)"/>
<ellipse class="s" cx="780.1" cy="1107.9" rx="1.7" ry="3" transform="rotate(90 780.1 1107.9)"/>
<path class="s" d="M780.1 1127.8 L780.1 1136.4"/>
<path class="s" d="M780.1 1141.5 L780.1 1163.1"/>
<text class="t" transform="translate(822 1116.2) scale(1.14 1)">47</text>
<path class="s" d="M785.6 1110.5 L804.5 1110.5"/>
<path class="s" d="M738.7 1145 L760.3 1132.1 L798.2 1154.4 L798.2 1157.9 L777.5 1168.2 L738.7 1147.6Z"/>
<path class="s" d="M739.6 1145.8 L777.5 1166.2 L797.3 1155.8"/>
<path class="s" d="M779.2 1167.4 L779.2 1178.2 L793 1171.7 L793 1158.8"/>
<path class="s" d="M770.3 1160 L772.7 1160 L772.7 1162.4 L770.3 1162.4Z"/>
<ellipse class="s" cx="780.1" cy="1164.8" rx="1.7" ry="1.4"/>
<ellipse class="s" cx="788.7" cy="1151.3" rx="1.9" ry="1" transform="rotate(-25 788.7 1151.3)"/>
<ellipse class="s" cx="792.1" cy="1156.2" rx="1.9" ry="1" transform="rotate(-25 792.1 1156.2)"/>
<path class="s" d="M776.3 1149.6 L778.7 1149.6"/>
<path class="s" d="M777.5 1148.4 L777.5 1150.8"/>
<ellipse class="s" cx="768.4" cy="1155" rx="0.9" ry="0.9"/>
<path class="s" d="M768.4 1156.2 L768.4 1179.9"/>
<path class="s" d="M715.8 1143.6 L738.2 1145.3"/>
<path class="s" d="M795.1 1052.8 L795.1 1063.2"/>
<path class="s" d="M798.5 1067.5 L826.1 1083"/>
<path class="s" d="M834.7 1088.1 L841.6 1092.4"/>
<text class="t" transform="translate(841.6 1042.1) scale(1.14 1)">44</text>
<text class="t" transform="translate(841.8 1071.1) scale(1.14 1)">55</text>
<text class="t" transform="translate(834.9 1147.2) scale(1.14 1)">55</text>
<text class="t" transform="translate(837.3 1173) scale(1.14 1)">44</text>
<path class="s" d="M462.4 783.5 L541 829"/>
<path class="s" d="M549 833.6 L556.5 838"/>
<path class="s" d="M565.7 842.7 L625 877.5"/>
<path class="s" d="M632.8 882 L636.7 884.3"/>
<path class="s" d="M648.6 890.6 L707.8 924.8"/>
<path class="s" d="M715.5 929.7 L722.4 933.7"/>
<path class="s" d="M732.7 939.7 L808.9 983.9"/>
<path class="k" d="M900.3 1070.6 L900.3 1082.7"/>
<path class="s w" d="M902 1065.8 L902 1071 A0.9 1.7 90 0 1 898.6 1071 L898.6 1065.8 Z"/>
<ellipse class="s w" cx="900.3" cy="1065.8" rx="0.9" ry="1.7" transform="rotate(90 900.3 1065.8)"/>
<path class="s w" d="M903.2 1032.7 L903.2 1065.8 A1.6 2.9 90 0 1 897.4 1065.8 L897.4 1032.7 Z"/>
<ellipse class="s w" cx="900.3" cy="1032.7" rx="1.6" ry="2.9" transform="rotate(90 900.3 1032.7)"/>
<path class="s w" d="M906.7 1025.5 L906.7 1032.7 A3.3 6 90 0 1 894.6 1032.7 L894.6 1025.5 Z"/>
<ellipse class="s w" cx="900.6" cy="1025.5" rx="3.3" ry="6" transform="rotate(90 900.6 1025.5)"/>
<ellipse class="s" cx="900.6" cy="1025.5" rx="1.7" ry="3" transform="rotate(90 900.6 1025.5)"/>
<path class="s w" d="M873.9 1076.1 L885.1 1069.4 L888.1 1069.9 L907.5 1081.3 L907.5 1084.1 L897.2 1089.9 L873.9 1077.9Z"/>
<path class="s" d="M873.9 1076.1 L896.7 1087.8 L907.5 1081.3"/>
<path class="s" d="M896.7 1087.8 L897.2 1089.9"/>
<path class="s" d="M877.4 1076.1 L884.3 1072.2 L886.3 1072.9 L879.4 1077Z"/>
<ellipse class="s" cx="900.3" cy="1082.7" rx="2.9" ry="1.7"/>
<path class="k" d="M900.3 1082.7 L900.3 1084.4"/>
<path class="k" d="M900.3 1089.6 L900.3 1100.8"/>
<path class="s w" d="M908.4 1101.3 L908.4 1127.5 A4.6 8.1 90 0 1 892.2 1127.5 L892.2 1101.3 Z"/>
<ellipse class="s w" cx="900.3" cy="1101.3" rx="4.6" ry="8.1" transform="rotate(90 900.3 1101.3)"/>
<ellipse class="k" cx="900.3" cy="1101.3" rx="3.4" ry="1.9"/>
<path class="k" d="M900.3 1132.1 L900.3 1149.9"/>
<path class="s w" d="M873.9 1143.3 L885.1 1136.6 L888.1 1137.1 L907.5 1148.5 L907.5 1151.2 L897.2 1157.1 L873.9 1145Z"/>
<path class="s" d="M873.9 1143.3 L896.7 1155 L907.5 1148.5"/>
<path class="s" d="M896.7 1155 L897.2 1157.1"/>
<path class="s" d="M877.4 1143.3 L884.3 1139.3 L886.3 1140 L879.4 1144.2Z"/>
<ellipse class="s" cx="900.3" cy="1149.9" rx="2.9" ry="1.7"/>
<path class="k" d="M900.3 1148.5 L900.3 1150.2"/>
<path class="k" d="M900.3 1155.9 L900.3 1169.7"/>
<path class="s w" d="M904.6 1171.4 L904.6 1174.1 A2.6 4.3 90 0 1 896 1174.1 L896 1171.4 Z"/>
<ellipse class="s w" cx="900.3" cy="1171.4" rx="2.6" ry="4.3" transform="rotate(90 900.3 1171.4)"/>
<ellipse class="s" cx="900.3" cy="1171.4" rx="1.3" ry="2.2" transform="rotate(90 900.3 1171.4)"/>
<text class="t" transform="translate(936.5 1054.2) scale(1.14 1)">30</text>
<path class="k" d="M903.7 1048.2 L924.4 1048.2"/>
<text class="t" transform="translate(933.9 1090.1) scale(1.14 1)">11</text>
<path class="s" d="M910.3 1084.4 L924.1 1084.4"/>
<text class="t" transform="translate(937.8 1125.4) scale(1.14 1)">29</text>
<path class="s" d="M908.9 1115.1 L924.1 1118.9"/>
<text class="t" transform="translate(933.4 1153.5) scale(1.14 1)">11</text>
<path class="s" d="M910.3 1151.2 L923.5 1148.1"/>
<text class="t" transform="translate(935.6 1179.6) scale(1.14 1)">61</text>
<path class="s" d="M905.1 1171.9 L922.7 1173.1"/>
<path class="s w" d="M883.1 1043.4 L883.1 1050.3 A0.9 1.7 90 0 1 879.6 1050.3 L879.6 1043.4 Z"/>
<ellipse class="s w" cx="881.3" cy="1043.4" rx="0.9" ry="1.7" transform="rotate(90 881.3 1043.4)"/>
<path class="th" d="M879.6 1045.1 C879.9 1045.3 880.8 1046.1 881.3 1046.1 C881.9 1046.1 882.8 1045.3 883.1 1045.1"/>
<path class="th" d="M879.6 1046.9 C879.9 1047 880.8 1047.8 881.3 1047.8 C881.9 1047.8 882.8 1047 883.1 1046.9"/>
<path class="th" d="M879.6 1048.6 C879.9 1048.7 880.8 1049.5 881.3 1049.5 C881.9 1049.5 882.8 1048.7 883.1 1048.6"/>
<path class="s w" d="M885.6 1038.2 L885.6 1043.4 A2.4 4.3 90 0 1 877 1043.4 L877 1038.2 Z"/>
<ellipse class="s w" cx="881.3" cy="1038.2" rx="2.4" ry="4.3" transform="rotate(90 881.3 1038.2)"/>
<ellipse class="s" cx="881.3" cy="1038.2" rx="1.3" ry="2.4" transform="rotate(90 881.3 1038.2)"/>
<ellipse class="s w" cx="881.3" cy="1056" rx="2.2" ry="4.3" transform="rotate(-90 881.3 1056)"/>
<ellipse class="s w" cx="881.3" cy="1056.8" rx="2.2" ry="4.3" transform="rotate(-90 881.3 1056.8)"/>
<ellipse class="s" cx="881.3" cy="1056.8" rx="1.1" ry="2.2" transform="rotate(-90 881.3 1056.8)"/>
<path class="s" d="M881.3 1059.4 L881.3 1072.3"/>
<path class="s" d="M856.4 1036.2 L877 1040"/>
<path class="s" d="M856.4 1061.7 L877 1058.2"/>
<path class="c2" d="M850.3 1098.2 L881.3 1115.1 L881.3 1139.5"/>
<path class="s" d="M881.3 1144.7 L881.3 1162.8"/>
<ellipse class="s w" cx="881.3" cy="1164.2" rx="2.2" ry="4.3" transform="rotate(-90 881.3 1164.2)"/>
<ellipse class="s w" cx="881.3" cy="1165" rx="2.2" ry="4.3" transform="rotate(-90 881.3 1165)"/>
<ellipse class="s" cx="881.3" cy="1165" rx="1.1" ry="2.2" transform="rotate(-90 881.3 1165)"/>
<path class="s w" d="M885.6 1180.5 L885.6 1186.9 A2.4 4.3 90 0 1 877 1186.9 L877 1180.5 Z"/>
<ellipse class="s w" cx="881.3" cy="1180.5" rx="2.4" ry="4.3" transform="rotate(90 881.3 1180.5)"/>
<path class="s w" d="M883.1 1172.2 L883.1 1180.5 A0.9 1.7 90 0 1 879.6 1180.5 L879.6 1172.2 Z"/>
<ellipse class="s w" cx="881.3" cy="1172.2" rx="0.9" ry="1.7" transform="rotate(90 881.3 1172.2)"/>
<path class="th" d="M879.6 1173.9 C879.9 1174.1 880.8 1174.8 881.3 1174.8 C881.9 1174.8 882.8 1174.1 883.1 1173.9"/>
<path class="th" d="M879.6 1175.6 C879.9 1175.7 880.8 1176.5 881.3 1176.5 C881.9 1176.5 882.8 1175.7 883.1 1175.6"/>
<path class="th" d="M879.6 1177.2 C879.9 1177.4 880.8 1178.2 881.3 1178.2 C881.9 1178.2 882.8 1177.4 883.1 1177.2"/>
<path class="th" d="M879.6 1178.9 C879.9 1179 880.8 1179.8 881.3 1179.8 C881.9 1179.8 882.8 1179 883.1 1178.9"/>
<path class="s" d="M851.2 1146.4 L877 1163.6"/>
<path class="s" d="M851.2 1169.7 L877 1176.6"/>
<path class="s" d="M793.2 1156.7 L793.2 1180.8"/>
<path class="s w" d="M797 1181.7 L797 1198.9 A2.1 3.8 90 0 1 789.4 1198.9 L789.4 1181.7 Z"/>
<ellipse class="s w" cx="793.2" cy="1181.7" rx="2.1" ry="3.8" transform="rotate(90 793.2 1181.7)"/>
<ellipse class="s" cx="793.2" cy="1181.7" rx="1" ry="1.9" transform="rotate(90 793.2 1181.7)"/>
<path class="s" d="M790.9 1183.7 L790.9 1199.2"/>
<path class="s" d="M795.2 1183.7 L795.2 1199.2"/>
<ellipse class="s w" cx="779.7" cy="1205.8" rx="2.7" ry="4.8" transform="rotate(-90 779.7 1205.8)"/>
<ellipse class="s w" cx="779.7" cy="1206.7" rx="2.7" ry="4.8" transform="rotate(-90 779.7 1206.7)"/>
<ellipse class="s" cx="779.7" cy="1206.7" rx="1.3" ry="2.4" transform="rotate(-90 779.7 1206.7)"/>
<path class="s w" d="M784.2 1222.2 L784.2 1228.5 A2.5 4.5 90 0 1 775.3 1228.5 L775.3 1222.2 Z"/>
<ellipse class="s w" cx="779.7" cy="1222.2" rx="2.5" ry="4.5" transform="rotate(90 779.7 1222.2)"/>
<path class="s w" d="M781.6 1213.5 L781.6 1222.2 A1 1.9 90 0 1 777.8 1222.2 L777.8 1213.5 Z"/>
<ellipse class="s w" cx="779.7" cy="1213.5" rx="1" ry="1.9" transform="rotate(90 779.7 1213.5)"/>
<path class="th" d="M777.8 1215.3 C778.2 1215.4 779.1 1216.3 779.7 1216.3 C780.4 1216.3 781.3 1215.4 781.6 1215.3"/>
<path class="th" d="M777.8 1217 C778.2 1217.2 779.1 1218 779.7 1218 C780.4 1218 781.3 1217.2 781.6 1217"/>
<path class="th" d="M777.8 1218.7 C778.2 1218.9 779.1 1219.8 779.7 1219.8 C780.4 1219.8 781.3 1218.9 781.6 1218.7"/>
<path class="th" d="M777.8 1220.4 C778.2 1220.6 779.1 1221.5 779.7 1221.5 C780.4 1221.5 781.3 1220.6 781.6 1220.4"/>
<path class="s" d="M742.7 1230.8 L756.5 1222.2 L781.5 1236.8 L768.5 1245.1Z"/>
<path class="s" d="M742.7 1230.8 L742.7 1242 L768.5 1256.6 L768.5 1245.1"/>
<path class="s" d="M771.1 1245.4 L780.6 1240.2 L789.2 1244.5 L779.7 1249.7Z"/>
<path class="s" d="M771.1 1245.4 L771.1 1255.7 L779.7 1258.3 L779.7 1249.7"/>
<path class="s" d="M779.7 1258.3 L789.2 1253.2 L789.2 1244.5"/>
<path class="s" d="M768.5 1256.6 L771.1 1255.7"/>
<ellipse class="s" cx="786.3" cy="1251.4" rx="2.2" ry="2.6"/>
<ellipse class="s" cx="786.3" cy="1251.4" rx="1" ry="1.2"/>
<ellipse class="s" cx="747" cy="1229.9" rx="1" ry="1"/>
<path class="s" d="M767.3 1241.6 L769.7 1241.6 L769.7 1244 L767.3 1244Z"/>
<path class="k" d="M769.9 1245.4 L769.9 1256.6"/>
<path class="s" d="M776.3 1235.9 L778.9 1234.4 L781.1 1235.6"/>
<path class="s g9" d="M725.6 1212.1 L734.8 1217.4 A2.8 4.7 30 0 1 730.2 1225.5 L720.9 1220.2 Z"/>
<ellipse class="s g9" cx="723.2" cy="1216.1" rx="2.8" ry="4.7" transform="rotate(30 723.2 1216.1)"/>
<path class="k3" d="M724.3 1211.8 L720.8 1219.6"/>
<path class="k3" d="M727.4 1213.2 L723.6 1221.3"/>
<path class="k3" d="M730.5 1214.7 L726.7 1223"/>
<path class="k3" d="M733.2 1216.5 L729.8 1224.4"/>
<path class="s" d="M735.8 1223.9 L745.3 1229.6"/>
<path class="s" d="M768.5 1154.1 L768.5 1192"/>
<path class="s" d="M768.5 1198.9 L768.5 1241.1"/>
<path class="c2" d="M768.5 1262.6 L768.5 1272.1"/>
<ellipse class="s w" cx="768.5" cy="1271.4" rx="2.8" ry="5.2" transform="rotate(-90 768.5 1271.4)"/>
<ellipse class="s w" cx="768.5" cy="1272.4" rx="2.8" ry="5.2" transform="rotate(-90 768.5 1272.4)"/>
<ellipse class="s" cx="768.5" cy="1272.4" rx="1.4" ry="2.6" transform="rotate(-90 768.5 1272.4)"/>
<ellipse class="s w" cx="768.5" cy="1284.5" rx="3" ry="5.2" transform="rotate(-90 768.5 1284.5)"/>
<ellipse class="s w" cx="768.5" cy="1285.5" rx="3" ry="5.2" transform="rotate(-90 768.5 1285.5)"/>
<ellipse class="s" cx="768.5" cy="1285.5" rx="1.5" ry="2.6" transform="rotate(-90 768.5 1285.5)"/>
<path class="k" d="M768.5 1275.6 L768.5 1282.4"/>
<path class="s w" d="M773.7 1311.4 L773.7 1320.3 A2.8 5.2 90 0 1 763.4 1320.3 L763.4 1311.4 Z"/>
<ellipse class="s w" cx="768.5" cy="1311.4" rx="2.8" ry="5.2" transform="rotate(90 768.5 1311.4)"/>
<path class="s w" d="M771.6 1295.4 L771.6 1311.4 A1.7 3.1 90 0 1 765.4 1311.4 L765.4 1295.4 Z"/>
<ellipse class="s w" cx="768.5" cy="1295.4" rx="1.7" ry="3.1" transform="rotate(90 768.5 1295.4)"/>
<path class="th" d="M765.4 1297 C766 1297.2 767.5 1298.7 768.5 1298.7 C769.6 1298.7 771.1 1297.2 771.6 1297"/>
<path class="th" d="M765.4 1298.6 C766 1298.8 767.5 1300.3 768.5 1300.3 C769.6 1300.3 771.1 1298.8 771.6 1298.6"/>
<path class="th" d="M765.4 1300.2 C766 1300.4 767.5 1301.9 768.5 1301.9 C769.6 1301.9 771.1 1300.4 771.6 1300.2"/>
<path class="th" d="M765.4 1301.8 C766 1302.1 767.5 1303.5 768.5 1303.5 C769.6 1303.5 771.1 1302.1 771.6 1301.8"/>
<path class="th" d="M765.4 1303.4 C766 1303.7 767.5 1305.1 768.5 1305.1 C769.6 1305.1 771.1 1303.7 771.6 1303.4"/>
<path class="th" d="M765.4 1305 C766 1305.3 767.5 1306.7 768.5 1306.7 C769.6 1306.7 771.1 1305.3 771.6 1305"/>
<path class="th" d="M765.4 1306.6 C766 1306.9 767.5 1308.3 768.5 1308.3 C769.6 1308.3 771.1 1306.9 771.6 1306.6"/>
<path class="th" d="M765.4 1308.2 C766 1308.5 767.5 1309.9 768.5 1309.9 C769.6 1309.9 771.1 1308.5 771.6 1308.2"/>
<path class="th" d="M765.4 1309.8 C766 1310.1 767.5 1311.5 768.5 1311.5 C769.6 1311.5 771.1 1310.1 771.6 1309.8"/>
<path class="c2" d="M772.5 1163.6 L772.5 1194.6 L779.6 1198.9 L779.6 1204.1"/>
<text class="t" transform="translate(699.4 1149.4) scale(1.14 1)">13</text>
<text class="t" transform="translate(704.7 1185.3) scale(1.14 1)">36</text>
<path class="s" d="M714.1 1189.9 L723.9 1211.8"/>
<text class="t" transform="translate(837.2 1198) scale(1.14 1)">34</text>
<path class="k" d="M797.1 1190.6 L821.2 1191.1"/>
<text class="t" transform="translate(837.6 1223.5) scale(1.14 1)">55</text>
<path class="s" d="M784.2 1208.9 L823 1215.3"/>
<text class="t" transform="translate(838 1252.5) scale(1.14 1)">45</text>
<path class="s" d="M783.3 1228.2 L822.1 1242.8"/>
<text class="t" transform="translate(702 1249) scale(1.14 1)">33</text>
<path class="s" d="M715.3 1241.6 L742.4 1236.4"/>
<text class="t" transform="translate(724.1 1282.1) scale(1.14 1)">53</text>
<path class="s" d="M741.1 1275 L762.7 1272.6"/>
<text class="t" transform="translate(826.9 1302.7) scale(1.14 1)">59</text>
<path class="s" d="M774.4 1287.6 L811.8 1295.4"/>
<text class="t" transform="translate(726.1 1317.9) scale(1.14 1)">46</text>
<path class="s" d="M742.4 1312.2 L762.7 1315.2"/>
<text class="t" transform="translate(428.9 1031.7) scale(1.14 1)">64</text>
<path class="s" d="M442.9 1035.5 L478.6 1044.5"/>
<path class="s w" d="M486.3 1051.2 L486.3 1066.2 A1.5 2.7 90 0 1 480.8 1066.2 L480.8 1051.2 Z"/>
<ellipse class="s w" cx="483.6" cy="1051.2" rx="1.5" ry="2.7" transform="rotate(90 483.6 1051.2)"/>
<path class="th" d="M480.8 1052.9 C481.3 1053.1 482.7 1054.4 483.6 1054.4 C484.5 1054.4 485.9 1053.1 486.3 1052.9"/>
<path class="th" d="M480.8 1054.6 C481.3 1054.8 482.7 1056.1 483.6 1056.1 C484.5 1056.1 485.9 1054.8 486.3 1054.6"/>
<path class="th" d="M480.8 1056.2 C481.3 1056.5 482.7 1057.7 483.6 1057.7 C484.5 1057.7 485.9 1056.5 486.3 1056.2"/>
<path class="th" d="M480.8 1057.9 C481.3 1058.1 482.7 1059.4 483.6 1059.4 C484.5 1059.4 485.9 1058.1 486.3 1057.9"/>
<path class="th" d="M480.8 1059.5 C481.3 1059.8 482.7 1061.1 483.6 1061.1 C484.5 1061.1 485.9 1059.8 486.3 1059.5"/>
<path class="th" d="M480.8 1061.2 C481.3 1061.5 482.7 1062.7 483.6 1062.7 C484.5 1062.7 485.9 1061.5 486.3 1061.2"/>
<path class="th" d="M480.8 1062.9 C481.3 1063.1 482.7 1064.4 483.6 1064.4 C484.5 1064.4 485.9 1063.1 486.3 1062.9"/>
<path class="th" d="M480.8 1064.5 C481.3 1064.8 482.7 1066.1 483.6 1066.1 C484.5 1066.1 485.9 1064.8 486.3 1064.5"/>
<path class="s w" d="M488.6 1044.5 L488.6 1051.2 A2.7 5 90 0 1 478.6 1051.2 L478.6 1044.5 Z"/>
<ellipse class="s w" cx="483.6" cy="1044.5" rx="2.7" ry="5" transform="rotate(90 483.6 1044.5)"/>
<ellipse class="s" cx="483.6" cy="1044.5" rx="1.5" ry="2.7" transform="rotate(90 483.6 1044.5)"/>
<text class="t" transform="translate(428.9 1067.5) scale(1.14 1)">65</text>
<path class="s" d="M442.9 1070 L478.6 1075.4"/>
<ellipse class="s w" cx="483.6" cy="1075.7" rx="2.7" ry="5" transform="rotate(-90 483.6 1075.7)"/>
<ellipse class="s w" cx="483.6" cy="1076.9" rx="2.7" ry="5" transform="rotate(-90 483.6 1076.9)"/>
<ellipse class="s" cx="483.6" cy="1076.9" rx="1.4" ry="2.5" transform="rotate(-90 483.6 1076.9)"/>
<path class="d3" d="M483.6 1081.2 L483.6 1091.2"/>
<path class="d3" d="M479.8 1108.7 L463.6 1117.9"/>
<path class="s w" d="M473.6 1094.4 L483.6 1088.7 L493.6 1088.7 L522.3 1104.9 L507.3 1113.7Z"/>
<path class="s w" d="M473.6 1094.4 L473.6 1106.2 L507.3 1124.9 L507.3 1113.7Z"/>
<path class="s" d="M507.3 1124.9 L522.3 1116.2 L522.3 1104.9"/>
<ellipse class="s" cx="483.6" cy="1092.7" rx="3.5" ry="2" transform="rotate(-10 483.6 1092.7)"/>
<ellipse class="s" cx="508.6" cy="1107.9" rx="4" ry="2" transform="rotate(-15 508.6 1107.9)"/>
<ellipse class="s" cx="484.8" cy="1106.2" rx="4.2" ry="4.7"/>
<path class="s" d="M492.8 1109.9 L496.1 1107.4 L499.8 1109.9 L499.8 1114.4 L496.1 1116.9 L492.8 1114.4Z"/>
<path class="s" d="M522.3 1118.7 L557.3 1124.4"/>
<ellipse class="s w" cx="460.2" cy="1119.9" rx="3.1" ry="4.5" transform="rotate(-30 460.2 1119.9)"/>
<ellipse class="s w" cx="459.3" cy="1120.4" rx="3.1" ry="4.5" transform="rotate(-30 459.3 1120.4)"/>
<ellipse class="s" cx="459.3" cy="1120.4" rx="1.6" ry="2.2" transform="rotate(-30 459.3 1120.4)"/>
<path class="s w" d="M441 1129.7 L448.5 1125.9 A1.1 1.6 -27 0 1 450 1128.8 L442.4 1132.6 Z"/>
<path d="M442.5 1129 A1.1 1.6 -27 0 1 444 1131.8M444 1128.2 A1.1 1.6 -27 0 1 445.5 1131.1M445.5 1127.4 A1.1 1.6 -27 0 1 447 1130.3M447 1126.6 A1.1 1.6 -27 0 1 448.5 1129.5" style="stroke-width:.5"/>
<path class="s w" d="M434.2 1129.7 L439.6 1126.9 A3.3 4.7 -27 0 1 443.9 1135.4 L438.5 1138.1 Z"/>
<ellipse class="s w" cx="436.4" cy="1133.9" rx="3.3" ry="4.7" transform="rotate(-27 436.4 1133.9)"/>
<ellipse class="s" cx="436.4" cy="1133.9" rx="1.8" ry="2.6" transform="rotate(-27 436.4 1133.9)"/>
<text class="t" transform="translate(407.8 1107.9) scale(1.14 1)">64</text>
<path class="s" d="M436.1 1127.4 L418.6 1114.9 L419.9 1137.4"/>
<path class="s w" d="M419.7 1138.4 L425.1 1135.8 A3.5 5 334 0 1 429.5 1144.7 L424.1 1147.4 Z"/>
<ellipse class="s w" cx="421.9" cy="1142.9" rx="3.5" ry="5" transform="rotate(334 421.9 1142.9)"/>
<ellipse class="s" cx="421.9" cy="1142.9" rx="1.7" ry="2.5" transform="rotate(154 421.9 1142.9)"/>
<path class="s w" d="M410.3 1146.6 L421.1 1141.3 A1.2 1.7 334 0 1 422.6 1144.5 L411.9 1149.7 Z"/>
<ellipse class="s w" cx="411.1" cy="1148.1" rx="1.2" ry="1.7" transform="rotate(334 411.1 1148.1)"/>
<ellipse class="th" cx="420.3" cy="1143.6" rx="1.2" ry="1.7" transform="rotate(154 420.3 1143.6)"/>
<ellipse class="th" cx="418.8" cy="1144.4" rx="1.2" ry="1.7" transform="rotate(154 418.8 1144.4)"/>
<ellipse class="th" cx="417.3" cy="1145.1" rx="1.2" ry="1.7" transform="rotate(154 417.3 1145.1)"/>
<ellipse class="th" cx="415.7" cy="1145.9" rx="1.2" ry="1.7" transform="rotate(154 415.7 1145.9)"/>
<ellipse class="th" cx="414.2" cy="1146.6" rx="1.2" ry="1.7" transform="rotate(154 414.2 1146.6)"/>
<ellipse class="th" cx="412.6" cy="1147.4" rx="1.2" ry="1.7" transform="rotate(154 412.6 1147.4)"/>
<ellipse class="s w" cx="400.8" cy="1153.4" rx="3.3" ry="4.7" transform="rotate(150 400.8 1153.4)"/>
<ellipse class="s w" cx="401.7" cy="1152.9" rx="3.3" ry="4.7" transform="rotate(150 401.7 1152.9)"/>
<ellipse class="s" cx="401.7" cy="1152.9" rx="1.7" ry="2.4" transform="rotate(150 401.7 1152.9)"/>
<text class="t" transform="translate(447.7 1185.8) scale(1.14 1)">60</text>
<path class="s" d="M461.1 1123.7 L444.9 1164.4 L404.9 1156.1"/>
<path class="s" d="M393.7 1158.6 L397.9 1155.4"/>
<text class="t" transform="translate(332.1 1094.7) scale(1.14 1)">64</text>
<path class="s" d="M346.2 1097.9 L367.9 1102.4"/>
<path class="s w" d="M375.2 1106.2 L375.2 1121.2 A1.5 2.7 90 0 1 369.7 1121.2 L369.7 1106.2 Z"/>
<ellipse class="s w" cx="372.4" cy="1106.2" rx="1.5" ry="2.7" transform="rotate(90 372.4 1106.2)"/>
<path class="th" d="M369.7 1107.8 C370.1 1108.1 371.5 1109.3 372.4 1109.3 C373.3 1109.3 374.7 1108.1 375.2 1107.8"/>
<path class="th" d="M369.7 1109.5 C370.1 1109.7 371.5 1111 372.4 1111 C373.3 1111 374.7 1109.7 375.2 1109.5"/>
<path class="th" d="M369.7 1111.2 C370.1 1111.4 371.5 1112.7 372.4 1112.7 C373.3 1112.7 374.7 1111.4 375.2 1111.2"/>
<path class="th" d="M369.7 1112.8 C370.1 1113.1 371.5 1114.3 372.4 1114.3 C373.3 1114.3 374.7 1113.1 375.2 1112.8"/>
<path class="th" d="M369.7 1114.5 C370.1 1114.7 371.5 1116 372.4 1116 C373.3 1116 374.7 1114.7 375.2 1114.5"/>
<path class="th" d="M369.7 1116.2 C370.1 1116.4 371.5 1117.7 372.4 1117.7 C373.3 1117.7 374.7 1116.4 375.2 1116.2"/>
<path class="th" d="M369.7 1117.8 C370.1 1118.1 371.5 1119.3 372.4 1119.3 C373.3 1119.3 374.7 1118.1 375.2 1117.8"/>
<path class="th" d="M369.7 1119.5 C370.1 1119.7 371.5 1121 372.4 1121 C373.3 1121 374.7 1119.7 375.2 1119.5"/>
<path class="s w" d="M377.4 1098.7 L377.4 1106.2 A2.7 5 90 0 1 367.4 1106.2 L367.4 1098.7 Z"/>
<ellipse class="s w" cx="372.4" cy="1098.7" rx="2.7" ry="5" transform="rotate(90 372.4 1098.7)"/>
<ellipse class="s" cx="372.4" cy="1098.7" rx="1.5" ry="2.7" transform="rotate(90 372.4 1098.7)"/>
<text class="t" transform="translate(332.5 1130.4) scale(1.14 1)">65</text>
<path class="k" d="M346.2 1130.4 L367.9 1130.4"/>
<ellipse class="s w" cx="372.4" cy="1129.9" rx="2.7" ry="5" transform="rotate(-90 372.4 1129.9)"/>
<ellipse class="s w" cx="372.4" cy="1131.1" rx="2.7" ry="5" transform="rotate(-90 372.4 1131.1)"/>
<ellipse class="s" cx="372.4" cy="1131.1" rx="1.4" ry="2.5" transform="rotate(-90 372.4 1131.1)"/>
<path class="d3" d="M372.4 1136.1 L372.4 1152.4"/>
<path class="s" d="M372.4 1174.9 L372.4 1244.8 L412.4 1223.6"/>
<path class="s" d="M365.4 1174.4 L353.7 1181.1"/>
<path class="s" d="M346.2 1185.3 L338.7 1189.8"/>
<path class="s" d="M330 1194.8 L300 1211.1"/>
<path class="s w" d="M364.7 1157.1 L371.8 1151.9 L376.7 1152.8 L407.2 1171.4 L393.5 1179.5Z"/>
<path class="s w" d="M364.7 1157.1 L364.7 1172.1 L393.5 1190.7 L393.5 1179.5Z"/>
<path class="s" d="M393.5 1190.7 L407.2 1182.6 L407.2 1171.4"/>
<path class="k" d="M393.5 1179.5 L393.5 1190.7"/>
<ellipse class="s" cx="373" cy="1157.1" rx="4" ry="1.9" transform="rotate(-20 373 1157.1)"/>
<ellipse class="s" cx="398.8" cy="1171.4" rx="4.2" ry="1.7" transform="rotate(-15 398.8 1171.4)"/>
<ellipse class="s" cx="369.9" cy="1172.1" rx="2.2" ry="2.5"/>
<ellipse class="s" cx="369.9" cy="1172.1" rx="1" ry="1.1"/>
<path class="s" d="M380.5 1175.8 L384.6 1178.3 L381.7 1181Z"/>
<text class="t" transform="translate(307.5 1171.6) scale(1.14 1)">63</text>
<path class="s" d="M325 1165.4 L363.7 1166.1"/>
<path class="s" d="M352.4 1196.1 L361.2 1189.8 L561 1301"/>
<path class="s" d="M352.4 1196.1 L561 1313.5"/>
<path class="s" d="M352.4 1196.1 L352.4 1206.1 L561 1326"/>
<ellipse class="s" cx="362.4" cy="1193.6" rx="3" ry="1.7" transform="rotate(-10 362.4 1193.6)"/>
<ellipse class="s g6" cx="387.4" cy="1209.3" rx="2" ry="1.2"/>
<ellipse class="s" cx="412.9" cy="1223.6" rx="2.2" ry="1.5"/>
<ellipse class="s" cx="457.8" cy="1249.3" rx="2.2" ry="1.5"/>
<ellipse class="s" cx="483.6" cy="1264.3" rx="2.2" ry="1.5"/>
<ellipse class="s" cx="508.6" cy="1279.3" rx="2.2" ry="1.5"/>
<text class="t" transform="translate(441.6 1312.2) scale(1.14 1)">62</text>
<path class="s" d="M463.6 1272.3 L449.4 1297.2"/>
<path class="s" d="M483.6 1108.7 L483.6 1169.9"/>
<path class="s" d="M483.6 1174.9 L483.6 1179.8"/>
<path class="s" d="M483.6 1184.8 L483.6 1263.5"/>
<path class="s" d="M483.6 1181.8 L439.9 1206.8"/>
<path class="s" d="M432.4 1211.1 L423.6 1216.1"/>
<path class="s" d="M457.8 1248.5 L457.8 1230.3 L512.3 1261"/>
<path class="s" d="M522.3 1267.3 L531 1272.3"/>
<path class="s" d="M539.8 1277.3 L561 1289.2"/>
<path class="c" d="M134.4 960 L134.4 1107.4"/>
<path class="s" d="M146.2 960 L146.2 1112.9"/>
<path class="c" d="M200.6 992.5 L200.6 1277.2"/>
<path class="c" d="M233.6 975 L233.6 1116.1"/>
<path class="c" d="M233.6 1201 L233.6 1304.7"/>
<path class="c" d="M238.6 975 L238.6 1112.4"/>
<path class="c" d="M238.6 1206 L238.6 1294.7"/>
<path class="c" d="M279.8 960 L279.8 1086.1"/>
<path class="c" d="M311 960 L311 1067.4"/>
<path class="c" d="M316 960 L316 1066.1"/>
<path class="c2" d="M172.4 978.7 L172.4 1005"/>
<path class="s" d="M172.4 978.7 L199.9 993.7"/>
<path class="s" d="M172.4 1005 L199.9 1019.9"/>
<ellipse class="s" cx="187.4" cy="997.5" rx="6" ry="9.5" transform="rotate(-20 187.4 997.5)"/>
<path class="s" d="M184.9 989.5 L191.1 1006.2"/>
<path class="s" d="M207.4 1013.7 L200.6 1019.9"/>
<path class="s" d="M238.6 1112.4 L238.6 1063.7 L259.8 1051.2"/>
<path class="s" d="M259.8 1051.2 C261.1 1050.9 265.4 1048.6 267.3 1049.4 C269.2 1050.2 270.4 1055 271 1056.2"/>
<path class="c2" d="M271 1056.2 L271 1089.9"/>
<path class="c2" d="M267.3 1054.4 L267.3 1091.9"/>
<path class="s" d="M321 1064.9 C317.5 1066.4 306.6 1069.9 299.8 1073.6 C292.9 1077.4 286.4 1083.6 279.8 1087.4 C273.1 1091.1 265.6 1092.6 259.8 1096.1 C254 1099.7 250.7 1104.9 244.8 1108.6 C239 1112.4 230 1115.5 224.8 1118.6 C219.6 1121.7 215.9 1123.8 213.6 1127.3 C211.3 1130.9 210.3 1134.8 211.1 1139.8 C211.9 1144.8 216.1 1151.5 218.6 1157.3 C221.1 1163.1 223.8 1169 226.1 1174.8 C228.4 1180.6 229.8 1187.3 232.3 1192.3 C234.8 1197.3 236.5 1202.5 241.1 1204.8 C245.7 1207.1 253.8 1205.2 259.8 1206 C265.8 1206.8 271.5 1209.3 277.3 1209.8 C283.1 1210.2 289.4 1209.1 294.8 1208.5 C300.2 1207.9 305.4 1207.5 309.8 1206 C314.1 1204.6 319.1 1200.8 321 1199.8"/>
<path class="s" d="M133.7 1106.9 L146.2 1113.6"/>
<path class="s" d="M156.2 1119.3 L164.9 1124.3"/>
<path class="s" d="M169.9 1126.8 L177.4 1131.3"/>
<path class="s" d="M179.9 1132.3 L199.9 1143.6"/>
<path class="s" d="M127.4 1109.9 L133.7 1106.1"/>
<path class="s" d="M128.7 1109.9 L146.2 1119.8"/>
<path class="s" d="M156.2 1124.8 L164.9 1129.8"/>
<path class="s" d="M169.9 1132.3 L177.4 1136.8"/>
<path class="s" d="M182.4 1139.8 L199.9 1149.3"/>
<path class="c2 k" d="M127.4 1109.9 L127.4 1137.3"/>
<path class="s" d="M127.4 1137.3 C126.8 1139.1 126 1145.1 123.7 1147.8 C121.4 1150.5 115.4 1152.6 113.7 1153.6"/>
<path class="s" d="M126.2 1143.6 L154.9 1159.3"/>
<path class="s" d="M159.9 1162.3 L169.9 1167.3"/>
<path class="s" d="M179.9 1173.5 L199.9 1184.8"/>
<ellipse class="s" cx="173.6" cy="1161.1" rx="1.2" ry="1.5"/>
<ellipse class="s" cx="196.1" cy="1173.5" rx="1.2" ry="1.5"/>
<path class="c2" d="M72 1159.8 L72 1129.8"/>
<path class="s" d="M72 1129.8 C72.4 1128.8 72.5 1125.5 74.5 1123.6 C76.4 1121.7 82.2 1119.4 83.7 1118.6"/>
<path class="c2" d="M83.7 1118.6 L108.7 1103.6 L113.7 1103.6 L113.7 1152.3 L110 1152.3 L110 1104.9"/>
<path class="c2" d="M85 1119.8 L110 1133.6"/>
<path class="s" d="M60 1152.3 L107.5 1179.3"/>
<path class="s" d="M114.9 1183.5 L123.7 1188.5"/>
<path class="s" d="M132.4 1193.5 L139.9 1197.3"/>
<path class="s" d="M148.7 1202.3 L199.9 1231"/>
<path class="s" d="M60 1157.3 L108.7 1184.8"/>
<path class="s" d="M117.4 1189.8 L124.9 1194.3"/>
<path class="s" d="M133.7 1199.3 L141.2 1203.5"/>
<path class="s" d="M149.9 1208.5 L199.9 1236.7"/>
<path class="s" d="M193.6 1231 L199.9 1226"/>
<path class="s" d="M60 1196 L70 1201.8"/>
<path class="s" d="M77.5 1206 L85 1210.3"/>
<path class="s" d="M93.7 1215.3 L101.2 1219.8"/>
<path class="s" d="M110 1224.7 L199.9 1276.7"/>
<path class="s" d="M207.4 1280.9 L214.9 1285.2"/>
<path class="s" d="M222.3 1289.7 L232.3 1295.9"/>
<path class="s" d="M60 1201.8 L105 1227.2"/>
<path class="s" d="M113.7 1232.2 L177.4 1268.5"/>
<path class="s" d="M60 1208.5 L67.5 1212.3"/>
<path class="s" d="M76.2 1217.3 L85 1222.2"/>
<path class="s" d="M93.7 1227.2 L101.2 1231.5"/>
<path class="s" d="M110 1236 L173.6 1272.2"/>
<path class="s" d="M183.6 1278.4 L191.1 1282.7"/>
<path class="s" d="M199.9 1287.2 L208.6 1292.2"/>
<path class="s" d="M217.3 1297.2 L231.1 1304.7"/>
<path class="s" d="M232.3 1295.9 L232.3 1305.9"/>
<path class="s" d="M234.8 1304.2 L234.8 1294.7"/>
<path class="s" d="M238.6 1293.4 L257.3 1282.7"/>
<path class="s" d="M264.8 1278.4 L273.5 1273.4"/>
<path class="s" d="M281 1269.7 L288.5 1265.2"/>
<path class="s" d="M296 1261 L319.8 1247.7 L319.8 1256"/>
<path class="s" d="M233.6 1305.4 L259.8 1290.2"/>
<path class="s" d="M267.3 1285.9 L274.8 1281.7"/>
<path class="s" d="M282.3 1277.2 L289.8 1273"/>
<path class="s" d="M297.3 1268.5 L319.8 1256"/>
<path class="s" d="M238.6 1258.5 L257.3 1247.7"/>
<path class="s" d="M263.6 1244.2 L279.8 1234.7"/>
<path class="c2" d="M279.8 1234.7 L311 1252.2"/>
<path class="s" d="M279.8 1209.8 L279.8 1234.7"/>
<path class="c2" d="M311 1212.3 L311 1252.2"/>
<path class="c2" d="M316 1212.3 L316 1249.7"/>
<ellipse class="s" cx="281" cy="1222.7" rx="1.7" ry="2"/>
<ellipse class="s" cx="292.3" cy="1229.7" rx="1.2" ry="1.5"/>
<path class="s" d="M281 1222.2 L297.3 1213.5"/>
<path class="s" d="M303.5 1212.3 L321 1212.3"/>
<path class="s" d="M316 1027.4 L321 1024.4"/>
<path class="s" d="M316 1034.9 L321 1031.9"/>
<path class="c" d="M310.4 914 L310.4 1067"/>
<path class="c" d="M315.2 914 L315.2 1064"/>
<path class="s" d="M343.7 957.4 L351.2 962.4"/>
<path class="s" d="M359.9 967.4 L389.9 984.9"/>
<path class="s" d="M402.4 979.4 L374.9 994.9"/>
<path class="s" d="M367.4 998.6 L359.9 1003.1"/>
<path class="s" d="M352.4 1007.4 L315 1027.8"/>
<path class="s" d="M401.1 987.9 L376.2 1001.9"/>
<path class="s" d="M367.4 1006.9 L359.9 1011.1"/>
<path class="s" d="M352.4 1014.9 L315 1036.1"/>
<path class="c" d="M343.7 914 L343.7 957.4"/>
<path class="c" d="M389.5 914 L389.5 985"/>
<path class="c" d="M411.1 914 L411.1 973.6"/>
<path class="s" d="M315 1022.3 L315 1067.3"/>
<path class="s" d="M411.1 945 L468.3 977.3"/>
<path class="s" d="M479.5 983.5 L489.5 989.3"/>
<path class="s" d="M495.7 992.7 L503.2 997.2"/>
<path class="s" d="M511.9 1002.2 L570.3 1035.8"/>
<path class="c2" d="M570.3 1035.8 L570.3 1061.9"/>
<path class="s" d="M389.5 986 L411.1 973.6 L463.3 1003.4"/>
<path class="s" d="M478.3 1012.2 L487 1017.1"/>
<path class="s" d="M495.7 1022.1 L503.2 1026.6"/>
<path class="s" d="M511.9 1031.6 L602.7 1083.8"/>
<path class="s" d="M380 992.2 L403.6 978.6 L423.5 989.8"/>
<path class="s" d="M432.2 994.7 L441 999.7"/>
<path class="s" d="M448.4 1004.2 L457.1 1009.2"/>
<path class="s" d="M465.8 1014.1 L529.3 1050.7"/>
<path class="s" d="M539.2 1055.7 L546.7 1060.7"/>
<path class="s" d="M554.2 1064.4 L562.9 1069.4"/>
<path class="s" d="M571.6 1074.4 L591.5 1086.8"/>
<path class="s" d="M380 1001 L401.1 988.5 L423.5 1001"/>
<path class="s" d="M432.2 1005.2 L441 1010.2"/>
<path class="s" d="M449.7 1014.6 L457.1 1019.1"/>
<path class="s" d="M465.8 1024.1 L529.3 1059.9"/>
<path class="s" d="M539.2 1065.6 L547.9 1070.6"/>
<path class="s" d="M555.4 1075.6 L564.1 1080.6"/>
<path class="s" d="M572.8 1085.6 L590.2 1094.3"/>
<path class="d1" d="M591.5 1086.8 L600.2 1086.8 L600.2 1094.3 L591.5 1094.3 L591.5 1086.8"/>
<path class="s" d="M602.7 1083.8 L640 1061.9"/>
<path class="s" d="M600.2 1094.3 L640 1073.1"/>
<ellipse class="s" cx="466.6" cy="992.2" rx="2" ry="3" transform="rotate(-20 466.6 992.2)"/>
<ellipse class="s" cx="489.5" cy="1005.9" rx="2" ry="3" transform="rotate(-20 489.5 1005.9)"/>
<ellipse class="s" cx="573.6" cy="1054" rx="2" ry="3" transform="rotate(-20 573.6 1054)"/>
<ellipse class="s" cx="585.3" cy="1060.7" rx="2" ry="3" transform="rotate(-20 585.3 1060.7)"/>
<path class="s" d="M571.6 1055.7 L534.3 1076.8"/>
<path class="s" d="M526.8 1081.3 L506.9 1093"/>
<path class="s" d="M608.9 1044.5 L640 1027.1"/>
<path class="c k" d="M571.1 834 L571.1 1036"/>
<path class="c k" d="M603.6 834 L603.6 1082"/>
<path class="c k" d="M608 834 L608 1078"/>
<path class="c k" d="M649.6 834 L649.6 1020.3"/>
<path class="c k" d="M681.2 834 L681.2 1038"/>
<path class="c k" d="M684.9 834 L684.9 1036"/>
<path class="c" d="M689.1 834 L689.1 1034"/>
<ellipse class="s" cx="635.7" cy="992.1" rx="5.9" ry="9.5" transform="rotate(30 635.7 992.1)"/>
<path class="s" d="M629.8 998.6 C630 997.5 629.4 994.1 631.2 991.7 C633 989.3 639.1 985.5 640.7 984.2"/>
<path class="d1" d="M590.3 1086.4 L599.2 1086.4 L599.2 1094.3 L590.3 1094.3Z"/>
<path class="s" d="M608.5 1079.5 L630.8 1066.7"/>
<path class="s" d="M640.7 1061.2 L647.6 1057.4"/>
<path class="s" d="M655.5 1052.9 L662.4 1048.9"/>
<path class="s" d="M672.2 1044 L705.8 1025.3"/>
<path class="s" d="M599.2 1094.3 L630.8 1076.6"/>
<path class="s" d="M640.7 1070.7 L647.6 1066.7"/>
<path class="s" d="M656.4 1061.8 L663.4 1058.2"/>
<path class="s" d="M673.2 1051.9 L705.8 1033.6"/>
<path class="s" d="M608.5 1045 L618.9 1039.1"/>
<path class="s" d="M624.9 1035.5 L649.5 1020.9"/>
<path class="c2" d="M649.5 1020.9 L680.5 1038.7"/>
<path class="s w" d="M596.5 1242.9 L596.5 1249.4 A0.9 1.7 90 0 1 593 1249.4 L593 1242.9 Z"/>
<ellipse class="s w" cx="594.7" cy="1242.9" rx="0.9" ry="1.7" transform="rotate(90 594.7 1242.9)"/>
<path class="s w" d="M599.4 1225.1 L599.4 1243.2 A2.6 4.7 90 0 1 590.1 1243.2 L590.1 1225.1 Z"/>
<ellipse class="s w" cx="594.7" cy="1225.1" rx="2.6" ry="4.7" transform="rotate(90 594.7 1225.1)"/>
<path class="s w" d="M600.4 1217 L600.4 1225.3 A3.1 5.7 90 0 1 589.1 1225.3 L589.1 1217 Z"/>
<ellipse class="s w" cx="594.7" cy="1217" rx="3.1" ry="5.7" transform="rotate(90 594.7 1217)"/>
<ellipse class="s" cx="594.7" cy="1217" rx="1.7" ry="3.1" transform="rotate(90 594.7 1217)"/>
<text class="t" transform="translate(639.1 1224.4) scale(1.14 1)">32</text>
<path class="s" d="M599.9 1231.3 L625.7 1226.9"/>
<path class="s" d="M594.7 1250.3 L594.7 1262.7"/>
<path class="s w" d="M604.7 1265.3 L604.7 1282.5 A5.2 10 90 0 1 584.7 1282.5 L584.7 1265.3 Z"/>
<ellipse class="s w" cx="594.7" cy="1265.3" rx="5.2" ry="10" transform="rotate(90 594.7 1265.3)"/>
<ellipse class="k" cx="594.7" cy="1265.3" rx="4.8" ry="2.6"/>
<text class="t" transform="translate(645.6 1280.4) scale(1.14 1)">31</text>
<path class="s" d="M605.1 1273.4 L632.6 1277.8"/>
<path class="d3" d="M594.7 1287.7 L594.7 1328.1"/>
<path class="s" d="M560.3 1288.9 L594.7 1307.5"/>
<path class="s" d="M560.3 1300.6 L604.2 1328.1 L604.2 1339.3 L593.9 1345.4 L593.9 1334.2 L604.2 1328.1"/>
<path class="s" d="M560.3 1313.1 L593.9 1334.2"/>
<path class="s" d="M560.3 1325.6 L593.9 1345.4"/>
<ellipse class="s" cx="593.9" cy="1329" rx="2.8" ry="1.6"/>
<path class="s" d="M883.4 1255.4 L912.2 1271.3 L912.4 1264 L924.3 1287.2 L912.4 1298.1 L912.4 1288.9 L883.4 1273.1Z"/>
<path class="s" d="M883.4 1255.4 L888.7 1252.2 L912.4 1265.6"/>
<path class="s" d="M912.4 1264 L917.7 1260.4 L929.7 1284.4 L924.3 1287.2"/>
<path class="s" d="M929.7 1284.4 L912.4 1298.1"/>
<path class="tx" d="M913.6 1297.5 L928.4 1285.5"/>
<text class="fwd" transform="matrix(0.7 0.4 0 1 890.4 1271.1)">FWD</text>
<text class="t" transform="translate(572.1 1135) scale(1.14 1)">63</text>
<path class="c2" d="M238.2 925.6 L279.4 902.8 L313.6 919.5"/>
<path class="s" d="M238.2 933 L276.4 911.5"/>
<path class="s" d="M276.4 911.5 C276.9 911.3 278.4 910.3 279.4 910.5 C280.4 910.6 281.9 912.2 282.4 912.5"/>
<path class="s" d="M282.4 912.5 L303.5 924.5"/>
<path class="s" d="M238.2 940.6 L277.4 919.5 L303.5 932.6"/>
<path class="s" d="M303.5 924.5 L313.6 919.5 L313.6 926.6 L303.5 932.6 L303.5 924.5"/>
<path class="c2" d="M314.6 918.5 L343.7 932.6"/>
<path class="c" d="M279.6 905 L279.6 960"/>
<text class="t" transform="translate(518.3 460.8) scale(1.14 1)">69</text>
<clipPath id="ic"><rect x="617" y="188" width="333" height="362"/></clipPath>
<g clip-path="url(#ic)"><g class="ins" transform="translate(630.0 7.1) scale(0.4056 0.4)"><path class="s" d="M124.2 719.1 L177.4 750.1"/>
<path class="s" d="M186.4 755.1 L194.1 759.3"/>
<path class="s" d="M85.9 741.7 L139.5 772.7"/>
<path class="s" d="M147.2 776.9 L155.8 781.9"/>
<path class="s" d="M164.4 787.1 L173 791.9"/>
<path class="s" d="M181.2 796.7 L233.3 826.3"/>
<path class="s" d="M63.9 755.1 L73.5 760.9"/>
<path class="s" d="M82.5 766 L90.7 770.8"/>
<path class="s" d="M98.9 775.6 L107 780.4"/>
<path class="s" d="M115.6 785.2 L181.6 823.4"/>
<path class="s" d="M190.2 828.2 L197.9 832.1"/>
<path class="s" d="M206.5 836.8 L214.2 841.6"/>
<path class="s" d="M222.8 847 L233.3 853.1"/>
<path class="c2" d="M233.3 826.3 L233.3 853.1"/>
<path class="s" d="M233.3 863.6 L233.3 891.4"/>
<path class="s" d="M237.1 865 L237.1 891.4"/>
<path class="d1" d="M205.6 847 L234.3 864.2"/>
<path class="s" d="M77.3 832.1 C77.3 827.3 76.3 810 76.9 803.3 C77.6 796.7 78.9 794.5 81.1 791.9 C83.4 789.3 88.4 788 90.7 787.7 C93 787.3 94.3 787 95.1 789.6 C96 792.2 95.8 798.5 95.9 803.3 C95.9 808.2 96.2 814.2 95.5 818.7 C94.8 823.1 93.4 827.2 91.7 830.1 C89.9 833.1 87 835.4 85 836.3 C82.9 837.2 80.5 836.2 79.2 835.5 C78 834.8 77.6 832.6 77.3 832.1"/>
<path class="s" d="M91.7 788.4 C91.7 790.9 92.1 798.3 92.1 803.3 C92 808.4 92 814.5 91.3 818.7 C90.6 822.8 89.6 825.7 87.8 828.2 C86.1 830.8 81.8 833 80.6 834"/>
<path class="c2" d="M120.4 788 L120.4 820.6"/>
<path class="s" d="M122.3 810.6 L139.5 800.5"/>
<path class="s" d="M127.1 813.3 L145.3 803.3"/>
<path class="s" d="M122.3 810.6 L143.3 822.5"/>
<path class="s" d="M120.4 820.6 L141.4 832.1"/>
<path class="s" d="M150 836.8 L155.8 839.7"/>
<path class="s" d="M164.4 844.5 L171.1 847.9"/>
<path class="s" d="M177.8 852.2 L199.8 864.2"/>
<path class="s" d="M178.8 843.2 L200.8 855"/>
<path class="s" d="M120 821.5 L101.6 832.1"/>
<path class="s" d="M95.9 835.3 L89.4 839.1"/>
<path class="s" d="M78.3 845.1 L70.6 849.3"/>
<path class="s" d="M69.7 851.2 L52.4 860.4"/>
<path class="c2" d="M146.8 804.3 L146.8 822.5"/>
<path class="c2" d="M156.4 809.1 L156.4 831.1"/>
<ellipse class="s" cx="156.4" cy="833" rx="3.4" ry="1.9"/>
<path class="s" d="M190.2 828.2 L190.2 838.8 L200.8 844.5"/>
<ellipse class="s" cx="197.3" cy="857.3" rx="3.3" ry="1.9"/>
<path class="s" d="M60.1 867.5 L70.6 873.2"/>
<path class="s" d="M79.2 878 L87.8 882.8"/>
<path class="s" d="M95.5 888.5 L104.1 892.3"/>
<path class="s" d="M59.1 876.1 L70.6 882.2"/>
<path class="s" d="M79.2 887.6 L87.8 892"/>
<path class="s" d="M95.5 896.2 L101.2 899"/>
<ellipse class="s" cx="188.6" cy="902.2" rx="16.2" ry="9.5"/>
<path class="s" d="M174.8 905.2 C176.1 904.5 179.6 901.9 182.3 901 C185 900.1 188.2 899.6 191.1 899.8 C194 899.9 197.7 900.9 199.8 901.7 C201.9 902.6 202.9 904.2 203.6 904.7"/>
<path class="s" d="M94.9 887.3 L103.7 892.3"/>
<path class="s" d="M112.4 897.3 L199.8 947.2"/>
<path class="s" d="M204.8 950.2 L221 959.7"/>
<path class="s" d="M96.2 896.8 L103.7 901"/>
<path class="s" d="M112.4 906 L178.6 943.5"/>
<path class="s" d="M186.1 947.7 L193.6 952.2"/>
<path class="s" d="M199.8 955.2 L221 967.2"/>
<path class="s" d="M59.9 912.2 L108.6 939.7"/>
<path class="s" d="M117.4 944.7 L124.9 949.2"/>
<path class="s" d="M129.9 951.7 L134.9 954.7"/>
<path class="s" d="M129.9 951 L133.6 952.2 L133.6 957.2 L129.9 955.2Z"/>
<path class="s" d="M134.1 955.9 L134.1 993.9"/>
<path class="s" d="M146.1 962.2 L146.1 993.9"/>
<path class="s" d="M149.9 963.4 L199.8 992.2"/>
<path class="c2" d="M172.3 975.9 L172.3 993.9"/>
<path class="c" d="M200.6 844.3 L200.6 993.9"/>
<path class="c" d="M233.5 862.3 L233.5 964.7"/>
<path class="s" d="M238.5 863.5 L238.5 993.9"/>
<path class="s" d="M237.3 896 C238.7 896 244.1 895 246 896 C247.9 897 248.3 900.2 248.5 902.2 C248.7 904.3 248.5 906.4 247.3 908.5 C246 910.6 242.5 912.4 241 914.7 C239.6 917 238.7 920.4 238.5 922.2 C238.3 924.1 239.6 925.4 239.8 926"/>
<path class="s" d="M243.5 897.3 C243.9 898.5 246.6 901.8 246 904.7 C245.4 907.7 240.8 913.1 239.8 914.7"/>
<path class="s" d="M221 961.7 L232.3 967.7 L244.3 961.7 L244.3 956.7 L239.8 955.2"/>
<path class="s" d="M232.3 967.7 L232.3 974.7 L221 968.4 L221 961.7"/>
<path class="s" d="M232.3 974.7 L244.3 967.7 L244.3 961.7"/>
<path class="s" d="M201.1 929.7 L201.1 936"/>
<path class="s" d="M202.3 931 L206.1 932.7"/>
<path class="s" d="M361.1 583.7 C361.5 584.8 363.8 588.2 363.6 590 C363.4 591.8 360.2 593 359.8 594.5 C359.4 595.9 360.9 598 361.1 598.7"/>
<path class="d1" d="M361.1 598.7 L379.8 608"/>
<path class="s" d="M377.3 606.2 L446 647.9"/>
<path class="s" d="M379.8 609.2 L445.2 649.9"/>
<path class="s" d="M382.3 661.2 L413.5 643.2 L441 657.9"/>
<path class="s" d="M386.1 663.7 L412.3 649.4 L441 665.4"/>
<path class="s" d="M389.3 663.7 L389.3 741.1"/>
<path class="c" d="M389.3 746.1 L389.3 913.9"/>
<path class="c" d="M411 649.9 L411 913.9"/>
<path class="s" d="M411 687.4 L441 703.6"/>
<path class="k" d="M411 736.1 L423.5 742.3"/>
<path class="k" d="M427.3 745.3 L437.3 750.3"/>
<path class="s" d="M180 752.3 L193.7 759.8"/>
<path class="s" d="M220 773.5 L272.4 804.8"/>
<path class="c2" d="M272.4 804.8 L272.4 831"/>
<path class="c2" d="M233.7 826.7 L272.4 806"/>
<path class="c2" d="M233.7 826.7 L233.7 852.2"/>
<path class="s" d="M233.7 852.2 L272.4 831"/>
<path class="s" d="M279.9 826.7 L287.4 822.7"/>
<path class="s" d="M293.6 819.3 L301.1 815.3"/>
<path class="s" d="M306.1 812.3 L313.6 808.5"/>
<path class="d1" d="M252.4 791 L267.4 782.3 L312.4 807.3"/>
<path class="s" d="M293.6 796 L319.9 781"/>
<path class="s" d="M329.9 775.3 L336.1 771.8"/>
<path class="s" d="M343.6 767.3 L352.3 762.3"/>
<path class="s" d="M362.3 756.1 L389.3 741.1"/>
<path class="s" d="M302.4 791 L302.4 803.5"/>
<path class="s" d="M305.6 789.8 L305.6 803.5"/>
<path class="s" d="M308.6 788.5 L308.6 803.5"/>
<path class="s" d="M293.6 796 L313.6 808.5"/>
<path class="c" d="M343.6 767.3 L343.6 913.9"/>
<path class="d2" d="M313.6 806 L343.6 789.8"/>
<path class="d2" d="M314.9 809.8 L343.6 794.8"/>
<path class="s" d="M310.4 819.8 L310.4 913.9"/>
<path class="s" d="M314.9 817.3 L314.9 913.9"/>
<path class="s" d="M238.7 861 L262.4 847.7"/>
<path class="s" d="M269.9 843.5 L277.4 839.2"/>
<path class="s" d="M283.7 836 L291.1 831.7"/>
<path class="s" d="M297.4 828.5 L312.4 819.8"/>
<path class="c" d="M279.4 837.2 L279.4 904.7"/>
<path class="s" d="M314.6 859.2 L343.6 844.2"/>
<path class="s" d="M314.9 872.2 L343.6 887.2"/>
<path class="s" d="M314.9 879.7 L343.6 894.7"/>
<ellipse class="s" cx="366.8" cy="904.2" rx="5.5" ry="9" transform="rotate(-30 366.8 904.2)"/>
<path class="s" d="M360.3 900.9 C360.9 902 361.8 905.5 363.6 907.2 C365.4 908.8 369.8 910.3 371.1 910.9"/>
<path class="s" d="M264.9 913.9 L279.4 904.7 L289.9 909.7"/>
<path class="s" d="M239.9 895.9 C241 896.1 244.9 895.7 246.2 897.2 C247.4 898.6 247.9 901.9 247.4 904.7 C247 907.5 244.3 912.4 243.7 913.9"/>
<path class="s" d="M243.7 897.2 C244 898.4 245.9 901.9 245.4 904.7 C245 907.5 241.9 912.4 241.2 913.9"/>
<path class="tx" d="M507.4 498.7 L559.8 528.7"/>
<path class="tx" d="M602.3 553.7 L654.8 583.7"/>
<path class="d1" d="M569.8 533.7 L577.3 538.7"/>
<path class="d1" d="M586.1 543.7 L593.6 547.9"/>
<path class="s" d="M497.4 505 L549.9 533.7"/>
<path class="s" d="M558.6 538.7 L566.1 542.4"/>
<path class="s" d="M574.8 547.4 L583.6 552.4"/>
<path class="s" d="M592.3 557.4 L646 587.4"/>
<path class="k" d="M486.2 510.5 L544.9 542.4"/>
<path class="k" d="M553.6 548.7 L562.3 552.9"/>
<path class="k" d="M571.1 558.7 L578.6 562.4"/>
<path class="k" d="M587.3 567.9 L646 601.1"/>
<path class="s" d="M474.9 517.5 L484.9 523"/>
<path class="s" d="M493.7 527.5 L502.4 532.4"/>
<path class="s" d="M509.9 536.9 L522.4 543.7"/>
<path class="s" d="M527.4 546.9 L594.8 584.9"/>
<path class="s" d="M603.6 589.9 L611 594.4"/>
<path class="s" d="M617.3 598.6 L626 603.6"/>
<path class="s" d="M632.3 607.4 L646 614.9"/>
<path class="c" d="M522.4 543.7 L522.4 571.2"/>
<path class="s" d="M522.4 571.2 C522.3 572 522.7 574.7 521.9 576.2 C521.1 577.6 518.1 579.3 517.4 579.9"/>
<path class="p2" d="M517.4 579.9 L472.4 606.1"/>
<path class="s" d="M472.4 606.1 C470.8 607 466 611 462.4 611.1 C458.9 611.2 453.1 607.6 451.2 606.9"/>
<path class="p2" d="M451.2 606.9 L406 581.9"/>
<path class="s" d="M406 581.9 C405.1 581.4 401.9 580.2 400.7 578.7 C399.6 577.2 399.5 573.9 399.3 572.9"/>
<path class="s" d="M399.3 572.9 L399.3 560.9"/>
<path class="c" d="M461.7 525 L461.7 604.9"/>
<path class="s" d="M561.1 612.4 L574.8 604.4"/>
<path class="s" d="M582.3 600.4 L599.8 589.9"/>
<path class="s" d="M599.8 589.9 L607.3 593.6"/>
<path class="s" d="M633.5 608.6 L646 616.1"/>
<path class="s" d="M559.8 611.6 L559.8 622.9"/>
<path class="s" d="M559.8 612.4 L604.8 638.6"/>
<path class="s" d="M559.8 623.6 L603.6 649.8"/>
<path class="s" d="M606.1 638.6 L634.8 622.4"/>
<path class="s" d="M641 618.6 L661 607.9"/>
<path class="s" d="M606.1 650.3 L649.8 624.9 L661 618.6"/>
<path class="s" d="M646 587.4 L646 616.1"/>
<path class="s" d="M646 587.4 L661 579.9"/>
<path class="c2" d="M606.1 638.6 L606.1 650.3"/>
<path class="s" d="M572.3 602.9 C570.3 602 564.2 598.4 559.8 597.4 C555.5 596.4 549.8 595.8 546.1 596.9 C542.4 597.9 538.8 601.4 537.9 603.6 C536.9 605.9 536.7 607 540.4 610.4 C544 613.7 556.6 621.4 559.8 623.6"/>
<path class="s" d="M566.1 607.9 C564 607.2 557.5 603.7 553.6 603.6 C549.7 603.5 544.3 605.7 542.9 607.4 C541.4 609 544.5 612.6 544.9 613.6"/>
<path class="c" d="M569.8 631.1 L569.8 833.9"/>
<path class="c k" d="M603.6 650.3 L603.6 833.9"/>
<path class="c k" d="M607.8 652.3 L607.8 833.9"/>
<path class="c k" d="M649.8 624.9 L649.8 833.9"/>
<path class="s" d="M413.7 643.6 L400 651.1"/>
<path class="s" d="M411.2 649.8 L400 656.1"/>
<path class="s" d="M454.4 652.8 L462.4 657.3"/>
<path class="s" d="M471.2 662.8 L479.9 667.3"/>
<path class="s" d="M487.4 672.3 L547.4 704.8"/>
<path class="s" d="M547.4 704.8 C548.6 705.8 553.4 707.9 554.9 711 C556.3 714.2 555.9 721.4 556.1 723.5"/>
<path class="s" d="M488.7 675.3 L544.9 706.5"/>
<path class="tx" d="M412.5 650.3 L435 662.3"/>
<path class="tx" d="M512.4 706 L539.9 721.8"/>
<path class="tx" d="M583.6 747.2 L603.6 757.7"/>
<path class="tx" d="M442.5 666.8 L451.2 671.8"/>
<path class="tx" d="M459.9 676.8 L468.7 681.8"/>
<path class="tx" d="M477.4 686.8 L486.2 691"/>
<path class="tx" d="M494.9 696.8 L502.4 701"/>
<path class="tx" d="M549.9 727.3 L559.8 732.8"/>
<path class="tx" d="M567.3 737.3 L577.3 743.5"/>
<path class="s" d="M413.7 643.6 L430 652.8"/>
<path class="s" d="M539.9 714.8 L603.6 751"/>
<ellipse class="s" cx="453.7" cy="662.3" rx="2.7" ry="1.7" transform="rotate(-15 453.7 662.3)"/>
<ellipse class="s" cx="494.4" cy="686.1" rx="2.7" ry="1.7" transform="rotate(-15 494.4 686.1)"/>
<ellipse class="s" cx="534.9" cy="708.5" rx="2.7" ry="1.7" transform="rotate(-15 534.9 708.5)"/>
<path class="s" d="M411.2 649.8 L411.2 688.6"/>
<path class="c" d="M411.2 692.3 L411.2 833.9"/>
<path class="s" d="M411.2 688.6 L469.9 722.3"/>
<path class="s" d="M477.4 727.3 L486.2 731.8"/>
<path class="s" d="M496.2 737.3 L503.7 741.7"/>
<path class="s" d="M512.4 746.7 L569.8 779.2"/>
<path class="s" d="M608.6 748.5 L629.8 737.3"/>
<path class="s" d="M637.3 732.8 L646 728.5"/>
<path class="s" d="M652.3 724.8 L661 720.3"/>
<path class="s" d="M608.6 754.7 L629.8 743.5"/>
<path class="s" d="M637.3 739 L646 734.8"/>
<path class="s" d="M652.3 731 L661 726.8"/>
<path class="s" d="M607.8 712.3 L618.5 706"/>
<path class="s" d="M624.8 702.8 L649.8 689.8 L661 696"/>
<path class="d3" d="M608.6 769.7 L634.8 754.7 L637.3 756.7 L637.3 773.5 L608.6 789.7"/>
<path class="d3" d="M608.6 772.7 L633.5 758.5 L634.8 761 L634.8 772.2 L608.6 786.7"/>
<ellipse class="s" cx="635.3" cy="793.4" rx="5.5" ry="10" transform="rotate(30 635.3 793.4)"/>
<path class="s" d="M629.8 797.2 C630 796.2 629.6 793 631 791 C632.5 788.9 637.3 785.7 638.5 784.7"/>
<path class="s" d="M654.9 584.5 L678.7 571.2"/>
<path class="s" d="M686.1 567 L693.6 563"/>
<path class="s" d="M699.9 559.5 L706.1 555.5"/>
<path class="s" d="M666.2 603.7 L674.9 599.2"/>
<path class="s" d="M682.4 594.9 L704.9 582.5"/>
<path class="s" d="M664.9 616.2 L673.7 611.2"/>
<path class="s" d="M679.9 607.4 L704.9 592.9"/>
<path class="c k" d="M681.2 606.2 L681.2 893.9"/>
<path class="c k" d="M684.9 604.4 L684.9 893.9"/>
<path class="c" d="M689.1 602.4 L689.1 893.9"/>
<path class="c2" d="M649.7 689.9 L679.9 706.8"/>
<path class="s" d="M689.9 701.1 L696.1 697.3 L696.1 706.8"/>
<path class="s" d="M667.4 716.8 L696.1 700.3"/>
<path class="s" d="M667.4 723.1 L696.1 706.8"/>
<ellipse class="s" cx="636.2" cy="889.7" rx="5.5" ry="9.5" transform="rotate(30 636.2 889.7)"/>
<path class="s" d="M631.2 893.9 C631.4 892.8 631.1 889.2 632.4 887.2 C633.8 885.1 638.3 882.6 639.4 881.7"/>
<path class="c" d="M134.4 960 L134.4 1107.4"/>
<path class="s" d="M146.2 960 L146.2 1112.9"/>
<path class="c" d="M200.6 992.5 L200.6 1277.2"/>
<path class="c" d="M233.6 975 L233.6 1116.1"/>
<path class="c" d="M233.6 1201 L233.6 1304.7"/>
<path class="c" d="M238.6 975 L238.6 1112.4"/>
<path class="c" d="M238.6 1206 L238.6 1294.7"/>
<path class="c" d="M279.8 960 L279.8 1086.1"/>
<path class="c" d="M311 960 L311 1067.4"/>
<path class="c" d="M316 960 L316 1066.1"/>
<path class="c2" d="M172.4 978.7 L172.4 1005"/>
<path class="s" d="M172.4 978.7 L199.9 993.7"/>
<path class="s" d="M172.4 1005 L199.9 1019.9"/>
<ellipse class="s" cx="187.4" cy="997.5" rx="6" ry="9.5" transform="rotate(-20 187.4 997.5)"/>
<path class="s" d="M184.9 989.5 L191.1 1006.2"/>
<path class="s" d="M207.4 1013.7 L200.6 1019.9"/>
<path class="s" d="M238.6 1112.4 L238.6 1063.7 L259.8 1051.2"/>
<path class="s" d="M259.8 1051.2 C261.1 1050.9 265.4 1048.6 267.3 1049.4 C269.2 1050.2 270.4 1055 271 1056.2"/>
<path class="c2" d="M271 1056.2 L271 1089.9"/>
<path class="c2" d="M267.3 1054.4 L267.3 1091.9"/>
<path class="s" d="M133.7 1106.9 L146.2 1113.6"/>
<path class="s" d="M156.2 1119.3 L164.9 1124.3"/>
<path class="s" d="M169.9 1126.8 L177.4 1131.3"/>
<path class="s" d="M179.9 1132.3 L199.9 1143.6"/>
<path class="s" d="M127.4 1109.9 L133.7 1106.1"/>
<path class="s" d="M128.7 1109.9 L146.2 1119.8"/>
<path class="s" d="M156.2 1124.8 L164.9 1129.8"/>
<path class="s" d="M169.9 1132.3 L177.4 1136.8"/>
<path class="s" d="M182.4 1139.8 L199.9 1149.3"/>
<path class="c2 k" d="M127.4 1109.9 L127.4 1137.3"/>
<path class="s" d="M127.4 1137.3 C126.8 1139.1 126 1145.1 123.7 1147.8 C121.4 1150.5 115.4 1152.6 113.7 1153.6"/>
<path class="s" d="M126.2 1143.6 L154.9 1159.3"/>
<path class="s" d="M159.9 1162.3 L169.9 1167.3"/>
<path class="s" d="M179.9 1173.5 L199.9 1184.8"/>
<ellipse class="s" cx="173.6" cy="1161.1" rx="1.2" ry="1.5"/>
<ellipse class="s" cx="196.1" cy="1173.5" rx="1.2" ry="1.5"/>
<path class="c2" d="M72 1159.8 L72 1129.8"/>
<path class="s" d="M72 1129.8 C72.4 1128.8 72.5 1125.5 74.5 1123.6 C76.4 1121.7 82.2 1119.4 83.7 1118.6"/>
<path class="c2" d="M83.7 1118.6 L108.7 1103.6 L113.7 1103.6 L113.7 1152.3 L110 1152.3 L110 1104.9"/>
<path class="c2" d="M85 1119.8 L110 1133.6"/>
<path class="s" d="M60 1152.3 L107.5 1179.3"/>
<path class="s" d="M114.9 1183.5 L123.7 1188.5"/>
<path class="s" d="M132.4 1193.5 L139.9 1197.3"/>
<path class="s" d="M148.7 1202.3 L199.9 1231"/>
<path class="s" d="M60 1157.3 L108.7 1184.8"/>
<path class="s" d="M117.4 1189.8 L124.9 1194.3"/>
<path class="s" d="M133.7 1199.3 L141.2 1203.5"/>
<path class="s" d="M149.9 1208.5 L199.9 1236.7"/>
<path class="s" d="M193.6 1231 L199.9 1226"/>
<path class="s" d="M60 1196 L70 1201.8"/>
<path class="s" d="M77.5 1206 L85 1210.3"/>
<path class="s" d="M93.7 1215.3 L101.2 1219.8"/>
<path class="s" d="M110 1224.7 L199.9 1276.7"/>
<path class="s" d="M207.4 1280.9 L214.9 1285.2"/>
<path class="s" d="M222.3 1289.7 L232.3 1295.9"/>
<path class="s" d="M60 1201.8 L105 1227.2"/>
<path class="s" d="M113.7 1232.2 L177.4 1268.5"/>
<path class="s" d="M60 1208.5 L67.5 1212.3"/>
<path class="s" d="M76.2 1217.3 L85 1222.2"/>
<path class="s" d="M93.7 1227.2 L101.2 1231.5"/>
<path class="s" d="M110 1236 L173.6 1272.2"/>
<path class="s" d="M183.6 1278.4 L191.1 1282.7"/>
<path class="s" d="M199.9 1287.2 L208.6 1292.2"/>
<path class="s" d="M217.3 1297.2 L231.1 1304.7"/>
<path class="s" d="M232.3 1295.9 L232.3 1305.9"/>
<path class="s" d="M234.8 1304.2 L234.8 1294.7"/>
<path class="s" d="M238.6 1293.4 L257.3 1282.7"/>
<path class="s" d="M264.8 1278.4 L273.5 1273.4"/>
<path class="s" d="M281 1269.7 L288.5 1265.2"/>
<path class="s" d="M296 1261 L319.8 1247.7 L319.8 1256"/>
<path class="s" d="M233.6 1305.4 L259.8 1290.2"/>
<path class="s" d="M267.3 1285.9 L274.8 1281.7"/>
<path class="s" d="M282.3 1277.2 L289.8 1273"/>
<path class="s" d="M297.3 1268.5 L319.8 1256"/>
<path class="s" d="M238.6 1258.5 L257.3 1247.7"/>
<path class="s" d="M263.6 1244.2 L279.8 1234.7"/>
<path class="c2" d="M279.8 1234.7 L311 1252.2"/>
<path class="s" d="M279.8 1209.8 L279.8 1234.7"/>
<path class="c2" d="M311 1212.3 L311 1252.2"/>
<path class="c2" d="M316 1212.3 L316 1249.7"/>
<ellipse class="s" cx="281" cy="1222.7" rx="1.7" ry="2"/>
<ellipse class="s" cx="292.3" cy="1229.7" rx="1.2" ry="1.5"/>
<path class="s" d="M281 1222.2 L297.3 1213.5"/>
<path class="s" d="M303.5 1212.3 L321 1212.3"/>
<path class="s" d="M316 1027.4 L321 1024.4"/>
<path class="s" d="M316 1034.9 L321 1031.9"/>
<path class="c" d="M310.4 914 L310.4 1067"/>
<path class="c" d="M315.2 914 L315.2 1064"/>
<path class="s" d="M343.7 957.4 L351.2 962.4"/>
<path class="s" d="M359.9 967.4 L389.9 984.9"/>
<path class="s" d="M402.4 979.4 L374.9 994.9"/>
<path class="s" d="M367.4 998.6 L359.9 1003.1"/>
<path class="s" d="M352.4 1007.4 L315 1027.8"/>
<path class="s" d="M401.1 987.9 L376.2 1001.9"/>
<path class="s" d="M367.4 1006.9 L359.9 1011.1"/>
<path class="s" d="M352.4 1014.9 L315 1036.1"/>
<path class="c" d="M343.7 914 L343.7 957.4"/>
<path class="c" d="M389.5 914 L389.5 985"/>
<path class="c" d="M411.1 914 L411.1 973.6"/>
<path class="s" d="M315 1022.3 L315 1067.3"/>
<path class="s" d="M411.1 945 L468.3 977.3"/>
<path class="s" d="M479.5 983.5 L489.5 989.3"/>
<path class="s" d="M495.7 992.7 L503.2 997.2"/>
<path class="s" d="M511.9 1002.2 L570.3 1035.8"/>
<path class="c2" d="M570.3 1035.8 L570.3 1061.9"/>
<path class="s" d="M389.5 986 L411.1 973.6 L463.3 1003.4"/>
<path class="s" d="M478.3 1012.2 L487 1017.1"/>
<path class="s" d="M495.7 1022.1 L503.2 1026.6"/>
<path class="s" d="M511.9 1031.6 L602.7 1083.8"/>
<path class="s" d="M380 992.2 L403.6 978.6 L423.5 989.8"/>
<path class="s" d="M432.2 994.7 L441 999.7"/>
<path class="s" d="M448.4 1004.2 L457.1 1009.2"/>
<path class="s" d="M465.8 1014.1 L529.3 1050.7"/>
<path class="s" d="M539.2 1055.7 L546.7 1060.7"/>
<path class="s" d="M554.2 1064.4 L562.9 1069.4"/>
<path class="s" d="M571.6 1074.4 L591.5 1086.8"/>
<path class="s" d="M380 1001 L401.1 988.5 L423.5 1001"/>
<path class="s" d="M432.2 1005.2 L441 1010.2"/>
<path class="s" d="M449.7 1014.6 L457.1 1019.1"/>
<path class="s" d="M465.8 1024.1 L529.3 1059.9"/>
<path class="s" d="M539.2 1065.6 L547.9 1070.6"/>
<path class="s" d="M555.4 1075.6 L564.1 1080.6"/>
<path class="s" d="M572.8 1085.6 L590.2 1094.3"/>
<path class="d1" d="M591.5 1086.8 L600.2 1086.8 L600.2 1094.3 L591.5 1094.3 L591.5 1086.8"/>
<path class="s" d="M602.7 1083.8 L640 1061.9"/>
<path class="s" d="M600.2 1094.3 L640 1073.1"/>
<ellipse class="s" cx="466.6" cy="992.2" rx="2" ry="3" transform="rotate(-20 466.6 992.2)"/>
<ellipse class="s" cx="489.5" cy="1005.9" rx="2" ry="3" transform="rotate(-20 489.5 1005.9)"/>
<ellipse class="s" cx="573.6" cy="1054" rx="2" ry="3" transform="rotate(-20 573.6 1054)"/>
<ellipse class="s" cx="585.3" cy="1060.7" rx="2" ry="3" transform="rotate(-20 585.3 1060.7)"/>
<path class="s" d="M608.9 1044.5 L640 1027.1"/>
<path class="c k" d="M571.1 834 L571.1 1036"/>
<path class="c k" d="M603.6 834 L603.6 1082"/>
<path class="c k" d="M608 834 L608 1078"/>
<path class="c k" d="M649.6 834 L649.6 1020.3"/>
<path class="c k" d="M681.2 834 L681.2 1038"/>
<path class="c k" d="M684.9 834 L684.9 1036"/>
<path class="c" d="M689.1 834 L689.1 1034"/>
<ellipse class="s" cx="635.7" cy="992.1" rx="5.9" ry="9.5" transform="rotate(30 635.7 992.1)"/>
<path class="s" d="M629.8 998.6 C630 997.5 629.4 994.1 631.2 991.7 C633 989.3 639.1 985.5 640.7 984.2"/>
<path class="d1" d="M590.3 1086.4 L599.2 1086.4 L599.2 1094.3 L590.3 1094.3Z"/>
<path class="s" d="M608.5 1079.5 L630.8 1066.7"/>
<path class="s" d="M640.7 1061.2 L647.6 1057.4"/>
<path class="s" d="M655.5 1052.9 L662.4 1048.9"/>
<path class="s" d="M672.2 1044 L705.8 1025.3"/>
<path class="s" d="M599.2 1094.3 L630.8 1076.6"/>
<path class="s" d="M640.7 1070.7 L647.6 1066.7"/>
<path class="s" d="M656.4 1061.8 L663.4 1058.2"/>
<path class="s" d="M673.2 1051.9 L705.8 1033.6"/>
<path class="s" d="M608.5 1045 L618.9 1039.1"/>
<path class="s" d="M624.9 1035.5 L649.5 1020.9"/>
<path class="c2" d="M649.5 1020.9 L680.5 1038.7"/>
<path class="c2" d="M238.2 925.6 L279.4 902.8 L313.6 919.5"/>
<path class="s" d="M238.2 933 L276.4 911.5"/>
<path class="s" d="M276.4 911.5 C276.9 911.3 278.4 910.3 279.4 910.5 C280.4 910.6 281.9 912.2 282.4 912.5"/>
<path class="s" d="M282.4 912.5 L303.5 924.5"/>
<path class="s" d="M238.2 940.6 L277.4 919.5 L303.5 932.6"/>
<path class="s" d="M303.5 924.5 L313.6 919.5 L313.6 926.6 L303.5 932.6 L303.5 924.5"/>
<path class="c2" d="M314.6 918.5 L343.7 932.6"/>
<path class="c" d="M279.6 905 L279.6 960"/></g><path class="s w nost" d="M708 305 L786.8 260 L792.8 287.5 L736.6 322.7 L710.4 314.6Z"/>
<path class="s" d="M701.4 295.5 L779.8 250.3"/>
<path class="s" d="M702.8 298.9 L781.2 253.7"/>
<path class="k" d="M708 305 L786.8 260"/>
<path class="s" d="M701.4 295.5 C701.5 297 701.3 302.3 702 304.6 C702.7 306.8 704.4 308.9 705.4 309 C706.4 309.1 707.6 305.6 708 305"/>
<ellipse class="s" cx="705.4" cy="307.2" rx="1.4" ry="1.8"/>
<path class="s" d="M779.8 250.3 C780.6 250.8 783.6 251.7 784.8 253.3 C786 254.9 786.5 258.8 786.8 260"/>
<path class="s" d="M786.8 260 L792.8 287.5 L736.6 322.7"/>
<path class="s" d="M788.8 295.5 L744.6 319.6"/>
<ellipse class="s" cx="752.7" cy="264" rx="2" ry="1"/>
<path class="s w" d="M794.3 330.4 L839.5 348.5 L804.3 428.9 L777.2 413.8 L783.2 356.5Z"/>
<path class="d3 k" d="M789.2 295.2 L789.2 330.4"/>
<path class="c2" d="M797.3 280.1 L797.3 326.4"/>
<path class="s" d="M798.3 265.1 L864.6 302.2"/>
<path class="s" d="M800.3 270.1 L862.6 307.3"/>
<path class="s" d="M797.3 280.1 L860.6 314.3"/>
<ellipse class="s g6" cx="812.3" cy="280.1" rx="2.8" ry="2"/>
<ellipse class="s g9" cx="834.4" cy="287.2" rx="5.2" ry="4.4"/>
<ellipse class="s g5" cx="834.4" cy="287.2" rx="2.4" ry="2"/>
<ellipse class="s" cx="849.5" cy="291.2" rx="2.8" ry="3.6"/>
<path class="s" d="M860.6 304.3 L868.6 308.3 L868.6 312.3 L860.6 314.7 L860.6 304.3"/>
<path class="s w" d="M865.2 304.7 L865.2 309.1 A1.1 2.2 90 0 1 860.8 309.1 L860.8 304.7 Z"/>
<ellipse class="s w" cx="863" cy="304.7" rx="1.1" ry="2.2" transform="rotate(90 863 304.7)"/>
<path class="s" d="M827.4 310.3 L827.4 324.4"/>
<path class="s" d="M832.4 311.3 L832.4 323.3"/>
<path class="s" d="M827.4 310.3 L832.4 309.3"/>
<path class="s" d="M800.3 318.3 L814.4 326.4"/>
<path class="s" d="M816.4 318.3 L816.4 327.4"/>
<path class="s w" d="M812.3 336.4 L822.4 330.4 L839.5 338.4 L839.5 348.5 L828.4 344.4 L812.3 338.4Z"/>
<path class="s" d="M822.4 330.4 L822.4 343.4"/>
<path class="s" d="M812.3 338.4 L822.4 343.4 L828.4 344.4"/>
<path class="s w" d="M843.9 324 L843.9 338 A1.2 2.4 90 0 1 839.1 338 L839.1 324 Z"/>
<ellipse class="s w" cx="841.5" cy="324" rx="1.2" ry="2.4" transform="rotate(90 841.5 324)"/>
<path class="k" d="M827.4 344.4 L827.4 350.5"/>
<path class="k" d="M831.4 342.8 L831.4 348.9"/>
<path class="k" d="M829.4 344.4 L829.4 350.5"/>
<path class="d3 k" d="M861.6 336.4 L861.6 422.8"/>
<path class="s" d="M844.5 328.4 L861.6 337.4"/>
<path class="d3" d="M817.4 398.7 L844.5 413.8"/>
<path class="s" d="M815.4 404.7 L906.8 455.4"/>
<path class="s" d="M814.4 410.8 L900.8 459"/>
<path class="s" d="M815.4 404.7 L814.4 410.8"/>
<ellipse class="s" cx="816.4" cy="411.8" rx="1.6" ry="1"/>
<path class="s w" d="M848.5 415.2 L848.5 423.6 A1.8 3.6 90 0 1 841.3 423.6 L841.3 415.2 Z"/>
<ellipse class="s w" cx="844.9" cy="415.2" rx="1.8" ry="3.6" transform="rotate(90 844.9 415.2)"/>
<ellipse class="s g6" cx="844.9" cy="414.4" rx="1.6" ry="1"/>
<path class="s w" d="M852.5 428.9 L858.6 425.8 L871.6 432.9 L871.6 438.9 L865.6 441.9 L852.5 434.9Z"/>
<ellipse class="s" cx="857.6" cy="429.3" rx="2.4" ry="1.6"/>
<ellipse class="s" cx="867.6" cy="433.3" rx="2" ry="1.4"/>
<path class="s" d="M855.6 431.9 L855.6 437.9"/>
<path class="s" d="M860.6 433.9 L860.6 439.9"/>
<path class="s w" d="M910.8 451 L910.8 459 A2 4 90 0 1 902.8 459 L902.8 451 Z"/>
<ellipse class="s w" cx="906.8" cy="451" rx="2" ry="4" transform="rotate(90 906.8 451)"/>
<ellipse class="s g6" cx="906.8" cy="450.2" rx="1.8" ry="1"/>
<path class="s" d="M758.6 505.6 L792.7 523.7"/>
<path class="s" d="M758.6 512.6 L790.7 530.7"/>
<path class="s" d="M792.7 523.7 L795.7 528.7"/>
<path class="s w" d="M795.3 518.7 L795.3 528.7 A1.8 3.6 90 0 1 788.1 528.7 L788.1 518.7 Z"/>
<ellipse class="s w" cx="791.7" cy="518.7" rx="1.8" ry="3.6" transform="rotate(90 791.7 518.7)"/>
<ellipse class="s g6" cx="791.7" cy="517.9" rx="1.6" ry="1"/>
<path class="d3" d="M725.4 528.7 L758.6 510.6"/>
<path class="s" d="M727.4 512.6 L744.5 502.6 L755.6 509.6"/>
<path class="s" d="M758.6 423.2 L777.7 414.2"/>
<path class="s" d="M725.5 352.1 L725.5 528.9"/>
<path class="s" d="M727.5 352.1 L727.5 527.9"/>
<path class="d3" d="M744.6 338 L744.6 504.8"/>
<path class="s" d="M756.7 380.2 L756.7 510.9"/>
<path class="s" d="M758.7 380.2 L758.7 509.9"/>
<path class="s" d="M727.5 434.5 L736.6 428.9"/>
<path class="s" d="M736.6 428.9 C737.2 428.7 739.5 427.4 740.2 428.1 C740.9 428.7 740.9 432.1 741 432.9"/>
<path class="c2" d="M741 432.9 L741 458.6"/>
<path class="s" d="M741 458.6 C740.7 459.4 740.1 462.4 739 463.6 C737.9 464.9 735.3 465.8 734.6 466.2"/>
<path class="s" d="M734.6 466.2 L727.5 469.7"/>
<path class="s" d="M727.5 511.9 L744.6 502.8 L756.7 509.9"/></g>
</svg>
</body></html>
